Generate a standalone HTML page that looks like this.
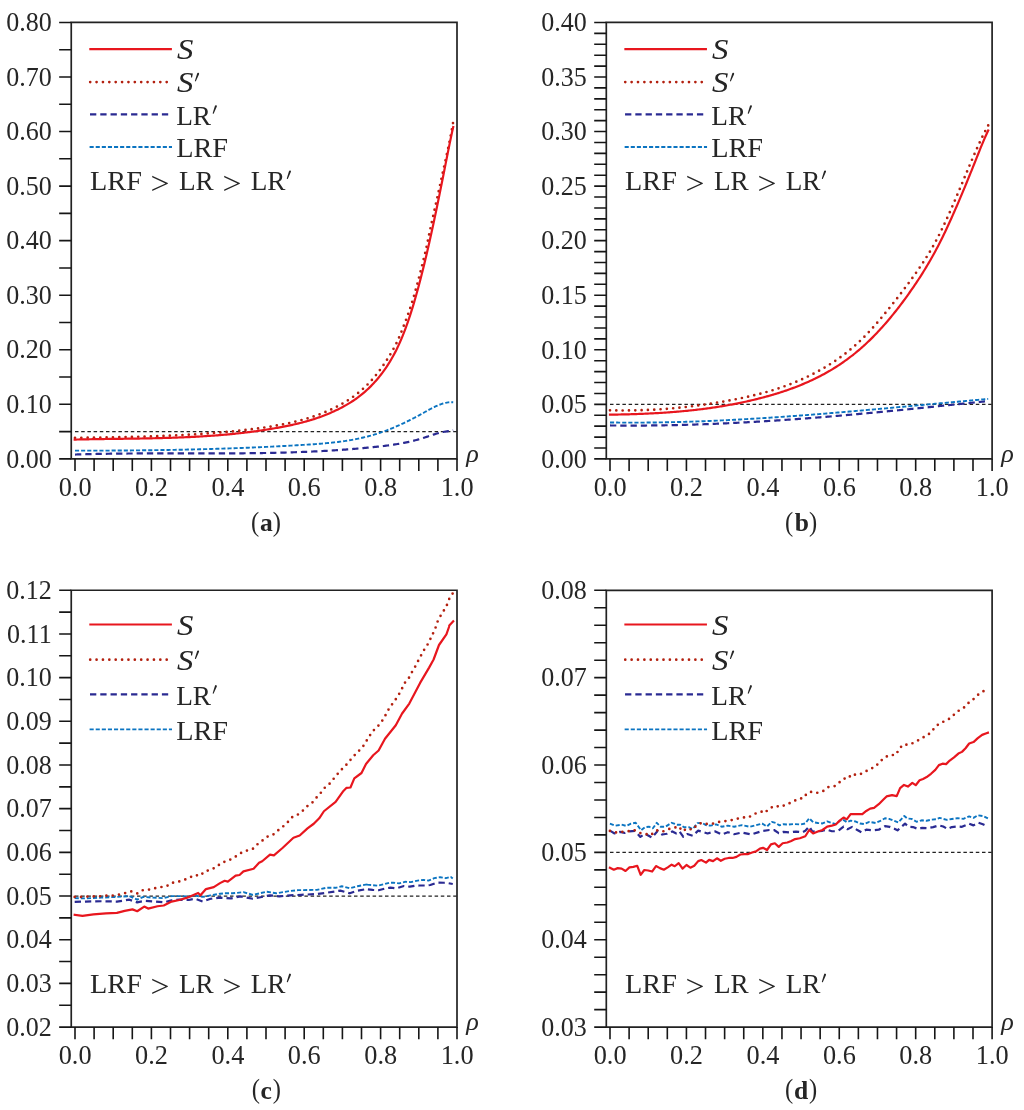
<!DOCTYPE html>
<html><head><meta charset="utf-8"><title>figure</title>
<style>html,body{margin:0;padding:0;background:#fff;width:1024px;height:1110px;overflow:hidden}svg{display:block;font-family:"Liberation Serif",serif}#w{will-change:transform;width:1024px;height:1110px}</style>
</head><body><div id="w">
<svg width="1024" height="1110" viewBox="0 0 1024 1110" font-family="Liberation Serif">
<rect width="1024" height="1110" fill="#fff"/>
<defs><clipPath id="clipa"><rect x="71.25" y="19.45" width="385.75" height="439.40"/></clipPath><clipPath id="clipb"><rect x="606.30" y="19.45" width="385.80" height="439.45"/></clipPath><clipPath id="clipc"><rect x="71.25" y="587.25" width="385.75" height="439.85"/></clipPath><clipPath id="clipd"><rect x="606.30" y="587.30" width="385.80" height="439.80"/></clipPath></defs>
<g clip-path="url(#clipa)">
<path d="M75.00,431.58 H459.00" stroke="#222222" stroke-width="1.3" fill="none" stroke-dasharray="3.5 2.7"/>
<path d="M75.00,454.55 L76.26,454.51 L77.53,454.47 L78.79,454.43 L80.06,454.39 L81.32,454.35 L82.59,454.31 L83.85,454.28 L85.12,454.24 L86.38,454.21 L87.65,454.17 L88.91,454.14 L90.18,454.11 L91.44,454.08 L92.71,454.05 L93.97,454.02 L95.24,453.99 L96.50,453.97 L97.77,453.94 L99.03,453.91 L100.30,453.89 L101.56,453.87 L102.83,453.84 L104.09,453.82 L105.36,453.80 L106.62,453.78 L107.89,453.76 L109.15,453.74 L110.42,453.72 L111.68,453.70 L112.95,453.68 L114.21,453.67 L115.48,453.65 L116.74,453.63 L118.01,453.62 L119.27,453.60 L120.54,453.59 L121.80,453.58 L123.07,453.57 L124.33,453.55 L125.60,453.54 L126.86,453.53 L128.13,453.52 L129.39,453.51 L130.65,453.50 L131.92,453.49 L133.18,453.48 L134.45,453.48 L135.71,453.47 L136.98,453.46 L138.24,453.46 L139.51,453.45 L140.77,453.44 L142.04,453.44 L143.30,453.43 L144.57,453.43 L145.83,453.42 L147.10,453.42 L148.36,453.42 L149.63,453.41 L150.89,453.41 L152.16,453.41 L153.42,453.41 L154.69,453.40 L155.95,453.40 L157.22,453.40 L158.48,453.40 L159.75,453.40 L161.01,453.40 L162.28,453.40 L163.54,453.40 L164.81,453.40 L166.07,453.40 L167.34,453.40 L168.60,453.40 L169.87,453.40 L171.13,453.40 L172.40,453.40 L173.66,453.40 L174.93,453.40 L176.19,453.40 L177.46,453.41 L178.72,453.41 L179.99,453.41 L181.25,453.41 L182.52,453.41 L183.78,453.41 L185.04,453.41 L186.31,453.42 L187.57,453.42 L188.84,453.42 L190.10,453.42 L191.37,453.42 L192.63,453.42 L193.90,453.42 L195.16,453.42 L196.43,453.43 L197.69,453.43 L198.96,453.43 L200.22,453.43 L201.49,453.43 L202.75,453.43 L204.02,453.43 L205.28,453.43 L206.55,453.43 L207.81,453.43 L209.08,453.43 L210.34,453.43 L211.61,453.42 L212.87,453.42 L214.14,453.42 L215.40,453.42 L216.67,453.42 L217.93,453.42 L219.20,453.41 L220.46,453.41 L221.73,453.41 L222.99,453.40 L224.26,453.40 L225.52,453.39 L226.79,453.39 L228.05,453.38 L229.32,453.38 L230.58,453.37 L231.85,453.36 L233.11,453.36 L234.38,453.35 L235.64,453.34 L236.91,453.33 L238.17,453.32 L239.43,453.31 L240.70,453.30 L241.96,453.29 L243.23,453.28 L244.49,453.27 L245.76,453.26 L247.02,453.25 L248.29,453.23 L249.55,453.22 L250.82,453.20 L252.08,453.19 L253.35,453.17 L254.61,453.16 L255.88,453.14 L257.14,453.12 L258.41,453.10 L259.67,453.09 L260.94,453.07 L262.20,453.05 L263.47,453.02 L264.73,453.00 L266.00,452.98 L267.26,452.96 L268.53,452.93 L269.79,452.91 L271.06,452.88 L272.32,452.85 L273.59,452.83 L274.85,452.80 L276.12,452.77 L277.38,452.74 L278.65,452.71 L279.91,452.68 L281.18,452.64 L282.44,452.61 L283.71,452.58 L284.97,452.54 L286.24,452.51 L287.50,452.47 L288.77,452.43 L290.03,452.39 L291.29,452.35 L292.56,452.31 L293.82,452.27 L295.09,452.23 L296.35,452.18 L297.62,452.14 L298.88,452.09 L300.15,452.04 L301.41,451.99 L302.68,451.94 L303.94,451.89 L305.21,451.84 L306.47,451.79 L307.74,451.74 L309.00,451.68 L310.27,451.63 L311.53,451.57 L312.80,451.51 L314.06,451.45 L315.33,451.39 L316.59,451.33 L317.86,451.26 L319.12,451.20 L320.39,451.13 L321.65,451.07 L322.92,451.00 L324.18,450.93 L325.45,450.86 L326.71,450.78 L327.98,450.71 L329.24,450.64 L330.51,450.56 L331.77,450.48 L333.04,450.40 L334.30,450.32 L335.57,450.24 L336.83,450.16 L338.10,450.07 L339.36,449.99 L340.63,449.90 L341.89,449.81 L343.16,449.72 L344.42,449.63 L345.68,449.54 L346.95,449.44 L348.21,449.34 L349.48,449.25 L350.74,449.15 L352.01,449.05 L353.27,448.94 L354.54,448.84 L355.80,448.73 L357.07,448.63 L358.33,448.52 L359.60,448.41 L360.86,448.30 L362.13,448.18 L363.39,448.07 L364.66,447.95 L365.92,447.83 L367.19,447.71 L368.45,447.59 L369.72,447.47 L370.98,447.34 L372.25,447.21 L373.51,447.08 L374.78,446.95 L376.04,446.82 L377.31,446.69 L378.57,446.55 L379.84,446.41 L381.10,446.27 L382.37,446.12 L383.63,445.97 L384.90,445.82 L386.16,445.67 L387.43,445.51 L388.69,445.34 L389.96,445.17 L391.22,444.99 L392.49,444.81 L393.75,444.63 L395.02,444.44 L396.28,444.24 L397.55,444.03 L398.81,443.82 L400.07,443.60 L401.34,443.37 L402.60,443.14 L403.87,442.90 L405.13,442.65 L406.40,442.39 L407.66,442.12 L408.93,441.84 L410.19,441.55 L411.46,441.26 L412.72,440.95 L413.99,440.63 L415.25,440.30 L416.52,439.96 L417.78,439.61 L419.05,439.25 L420.31,438.88 L421.58,438.49 L422.84,438.09 L424.11,437.69 L425.37,437.27 L426.64,436.85 L427.90,436.42 L429.17,435.99 L430.43,435.57 L431.70,435.15 L432.96,434.74 L434.23,434.33 L435.49,433.94 L436.76,433.56 L438.02,433.20 L439.29,432.86 L440.55,432.55 L441.82,432.25 L443.08,431.99 L444.35,431.75 L445.61,431.54 L446.88,431.33 L448.14,431.13 L449.41,430.93 L450.67,430.72 L451.94,430.48 L453.20,430.22" stroke="#2a2a92" stroke-width="2.2" fill="none" stroke-dasharray="6.3 3.97" stroke-linejoin="round"/>
<path d="M75.00,450.65 L76.26,450.65 L77.53,450.65 L78.79,450.65 L80.06,450.65 L81.32,450.65 L82.59,450.65 L83.85,450.65 L85.12,450.65 L86.38,450.65 L87.65,450.65 L88.91,450.64 L90.18,450.64 L91.44,450.64 L92.71,450.64 L93.97,450.63 L95.24,450.63 L96.50,450.63 L97.77,450.62 L99.03,450.62 L100.30,450.62 L101.56,450.61 L102.83,450.61 L104.09,450.60 L105.36,450.60 L106.62,450.59 L107.89,450.59 L109.15,450.58 L110.42,450.58 L111.68,450.57 L112.95,450.56 L114.21,450.56 L115.48,450.55 L116.74,450.54 L118.01,450.53 L119.27,450.52 L120.54,450.52 L121.80,450.51 L123.07,450.50 L124.33,450.49 L125.60,450.48 L126.86,450.47 L128.13,450.46 L129.39,450.45 L130.65,450.44 L131.92,450.42 L133.18,450.41 L134.45,450.40 L135.71,450.39 L136.98,450.38 L138.24,450.36 L139.51,450.35 L140.77,450.34 L142.04,450.32 L143.30,450.31 L144.57,450.29 L145.83,450.28 L147.10,450.26 L148.36,450.25 L149.63,450.23 L150.89,450.21 L152.16,450.20 L153.42,450.18 L154.69,450.16 L155.95,450.14 L157.22,450.13 L158.48,450.11 L159.75,450.09 L161.01,450.07 L162.28,450.05 L163.54,450.03 L164.81,450.01 L166.07,449.99 L167.34,449.97 L168.60,449.94 L169.87,449.92 L171.13,449.90 L172.40,449.88 L173.66,449.85 L174.93,449.83 L176.19,449.81 L177.46,449.78 L178.72,449.76 L179.99,449.73 L181.25,449.70 L182.52,449.68 L183.78,449.65 L185.04,449.62 L186.31,449.60 L187.57,449.57 L188.84,449.54 L190.10,449.51 L191.37,449.48 L192.63,449.45 L193.90,449.42 L195.16,449.39 L196.43,449.36 L197.69,449.33 L198.96,449.30 L200.22,449.27 L201.49,449.23 L202.75,449.20 L204.02,449.17 L205.28,449.13 L206.55,449.10 L207.81,449.06 L209.08,449.03 L210.34,448.99 L211.61,448.95 L212.87,448.92 L214.14,448.88 L215.40,448.84 L216.67,448.80 L217.93,448.76 L219.20,448.72 L220.46,448.68 L221.73,448.64 L222.99,448.60 L224.26,448.56 L225.52,448.52 L226.79,448.48 L228.05,448.43 L229.32,448.39 L230.58,448.35 L231.85,448.30 L233.11,448.26 L234.38,448.21 L235.64,448.17 L236.91,448.12 L238.17,448.07 L239.43,448.02 L240.70,447.98 L241.96,447.93 L243.23,447.88 L244.49,447.83 L245.76,447.78 L247.02,447.73 L248.29,447.68 L249.55,447.62 L250.82,447.57 L252.08,447.52 L253.35,447.47 L254.61,447.41 L255.88,447.36 L257.14,447.30 L258.41,447.25 L259.67,447.19 L260.94,447.13 L262.20,447.07 L263.47,447.02 L264.73,446.96 L266.00,446.90 L267.26,446.84 L268.53,446.78 L269.79,446.72 L271.06,446.66 L272.32,446.59 L273.59,446.53 L274.85,446.47 L276.12,446.40 L277.38,446.34 L278.65,446.27 L279.91,446.21 L281.18,446.14 L282.44,446.07 L283.71,446.01 L284.97,445.94 L286.24,445.87 L287.50,445.80 L288.77,445.73 L290.03,445.66 L291.29,445.59 L292.56,445.52 L293.82,445.44 L295.09,445.37 L296.35,445.30 L297.62,445.22 L298.88,445.15 L300.15,445.07 L301.41,445.00 L302.68,444.92 L303.94,444.84 L305.21,444.76 L306.47,444.68 L307.74,444.60 L309.00,444.52 L310.27,444.44 L311.53,444.36 L312.80,444.27 L314.06,444.18 L315.33,444.09 L316.59,444.00 L317.86,443.91 L319.12,443.81 L320.39,443.71 L321.65,443.61 L322.92,443.51 L324.18,443.40 L325.45,443.29 L326.71,443.17 L327.98,443.05 L329.24,442.93 L330.51,442.80 L331.77,442.67 L333.04,442.54 L334.30,442.40 L335.57,442.25 L336.83,442.10 L338.10,441.95 L339.36,441.79 L340.63,441.62 L341.89,441.45 L343.16,441.27 L344.42,441.09 L345.68,440.90 L346.95,440.70 L348.21,440.50 L349.48,440.29 L350.74,440.08 L352.01,439.85 L353.27,439.62 L354.54,439.39 L355.80,439.14 L357.07,438.89 L358.33,438.63 L359.60,438.36 L360.86,438.08 L362.13,437.80 L363.39,437.50 L364.66,437.20 L365.92,436.89 L367.19,436.57 L368.45,436.24 L369.72,435.90 L370.98,435.55 L372.25,435.19 L373.51,434.82 L374.78,434.44 L376.04,434.05 L377.31,433.65 L378.57,433.24 L379.84,432.82 L381.10,432.39 L382.37,431.95 L383.63,431.50 L384.90,431.04 L386.16,430.57 L387.43,430.09 L388.69,429.60 L389.96,429.10 L391.22,428.59 L392.49,428.08 L393.75,427.55 L395.02,427.02 L396.28,426.47 L397.55,425.92 L398.81,425.36 L400.07,424.79 L401.34,424.22 L402.60,423.63 L403.87,423.04 L405.13,422.43 L406.40,421.82 L407.66,421.21 L408.93,420.58 L410.19,419.95 L411.46,419.31 L412.72,418.66 L413.99,418.00 L415.25,417.34 L416.52,416.67 L417.78,415.99 L419.05,415.30 L420.31,414.61 L421.58,413.92 L422.84,413.21 L424.11,412.50 L425.37,411.79 L426.64,411.08 L427.90,410.38 L429.17,409.68 L430.43,409.00 L431.70,408.33 L432.96,407.68 L434.23,407.05 L435.49,406.44 L436.76,405.86 L438.02,405.32 L439.29,404.80 L440.55,404.32 L441.82,403.89 L443.08,403.49 L444.35,403.15 L445.61,402.85 L446.88,402.60 L448.14,402.42 L449.41,402.29 L450.67,402.22 L451.94,402.22 L453.20,402.29" stroke="#0b74c1" stroke-width="1.9" fill="none" stroke-dasharray="4.1 2.0" stroke-linejoin="round"/>
<path d="M75.00,437.86 L76.26,437.85 L77.53,437.83 L78.79,437.82 L80.06,437.80 L81.32,437.78 L82.59,437.77 L83.85,437.75 L85.11,437.73 L86.38,437.72 L87.64,437.70 L88.91,437.68 L90.17,437.66 L91.43,437.65 L92.70,437.63 L93.96,437.61 L95.23,437.59 L96.49,437.57 L97.76,437.56 L99.02,437.54 L100.28,437.52 L101.55,437.50 L102.81,437.48 L104.08,437.46 L105.34,437.44 L106.61,437.42 L107.87,437.40 L109.13,437.38 L110.40,437.35 L111.66,437.33 L112.93,437.31 L114.19,437.29 L115.45,437.26 L116.72,437.24 L117.98,437.21 L119.25,437.19 L120.51,437.16 L121.78,437.14 L123.04,437.11 L124.30,437.09 L125.57,437.06 L126.83,437.03 L128.10,437.00 L129.36,436.97 L130.63,436.94 L131.89,436.91 L133.15,436.88 L134.42,436.85 L135.68,436.82 L136.95,436.79 L138.21,436.75 L139.47,436.72 L140.74,436.68 L142.00,436.65 L143.27,436.61 L144.53,436.57 L145.80,436.54 L147.06,436.50 L148.32,436.46 L149.59,436.42 L150.85,436.38 L152.12,436.33 L153.38,436.29 L154.65,436.25 L155.91,436.20 L157.17,436.16 L158.44,436.11 L159.70,436.06 L160.97,436.02 L162.23,435.97 L163.49,435.92 L164.76,435.87 L166.02,435.81 L167.29,435.76 L168.55,435.71 L169.82,435.65 L171.08,435.59 L172.34,435.54 L173.61,435.48 L174.87,435.42 L176.14,435.36 L177.40,435.30 L178.67,435.24 L179.93,435.17 L181.19,435.11 L182.46,435.04 L183.72,434.97 L184.99,434.90 L186.25,434.83 L187.52,434.76 L188.78,434.69 L190.04,434.62 L191.31,434.54 L192.57,434.47 L193.84,434.39 L195.10,434.31 L196.36,434.23 L197.63,434.15 L198.89,434.07 L200.16,433.98 L201.42,433.90 L202.69,433.81 L203.95,433.72 L205.21,433.63 L206.48,433.54 L207.74,433.45 L209.01,433.36 L210.27,433.26 L211.54,433.16 L212.80,433.07 L214.06,432.97 L215.33,432.87 L216.59,432.76 L217.86,432.66 L219.12,432.55 L220.38,432.44 L221.65,432.34 L222.91,432.22 L224.18,432.11 L225.44,432.00 L226.71,431.88 L227.97,431.76 L229.23,431.65 L230.50,431.53 L231.76,431.40 L233.03,431.28 L234.29,431.15 L235.56,431.02 L236.82,430.90 L238.08,430.76 L239.35,430.63 L240.61,430.50 L241.88,430.36 L243.14,430.22 L244.40,430.08 L245.67,429.94 L246.93,429.79 L248.20,429.65 L249.46,429.50 L250.73,429.34 L251.99,429.19 L253.25,429.03 L254.52,428.87 L255.78,428.71 L257.05,428.54 L258.31,428.37 L259.58,428.20 L260.84,428.02 L262.10,427.84 L263.37,427.66 L264.63,427.47 L265.90,427.28 L267.16,427.09 L268.42,426.89 L269.69,426.69 L270.95,426.48 L272.22,426.27 L273.48,426.06 L274.75,425.84 L276.01,425.61 L277.27,425.39 L278.54,425.15 L279.80,424.91 L281.07,424.67 L282.33,424.43 L283.60,424.17 L284.86,423.91 L286.12,423.65 L287.39,423.38 L288.65,423.11 L289.92,422.83 L291.18,422.55 L292.44,422.25 L293.71,421.96 L294.97,421.66 L296.24,421.35 L297.50,421.03 L298.77,420.71 L300.03,420.38 L301.29,420.05 L302.56,419.71 L303.82,419.36 L305.09,419.00 L306.35,418.64 L307.62,418.27 L308.88,417.89 L310.14,417.50 L311.41,417.10 L312.67,416.69 L313.94,416.27 L315.20,415.84 L316.46,415.40 L317.73,414.95 L318.99,414.49 L320.26,414.02 L321.52,413.53 L322.79,413.04 L324.05,412.53 L325.31,412.01 L326.58,411.48 L327.84,410.93 L329.11,410.37 L330.37,409.80 L331.64,409.21 L332.90,408.61 L334.16,407.99 L335.43,407.36 L336.69,406.72 L337.96,406.05 L339.22,405.38 L340.48,404.68 L341.75,403.97 L343.01,403.25 L344.28,402.50 L345.54,401.74 L346.81,400.96 L348.07,400.16 L349.33,399.34 L350.60,398.50 L351.86,397.64 L353.13,396.75 L354.39,395.83 L355.66,394.89 L356.92,393.92 L358.18,392.92 L359.45,391.89 L360.71,390.83 L361.98,389.74 L363.24,388.61 L364.51,387.45 L365.77,386.25 L367.03,385.01 L368.30,383.74 L369.56,382.42 L370.83,381.06 L372.09,379.66 L373.35,378.22 L374.62,376.73 L375.88,375.20 L377.15,373.62 L378.41,372.00 L379.68,370.33 L380.94,368.61 L382.20,366.85 L383.47,365.03 L384.73,363.17 L386.00,361.26 L387.26,359.29 L388.53,357.28 L389.79,355.21 L391.05,353.09 L392.32,350.91 L393.58,348.67 L394.85,346.34 L396.11,343.89 L397.37,341.29 L398.64,338.50 L399.90,335.53 L401.17,332.42 L402.43,329.21 L403.70,325.96 L404.96,322.65 L406.22,319.28 L407.49,315.82 L408.75,312.24 L410.02,308.52 L411.28,304.65 L412.55,300.62 L413.81,296.43 L415.07,292.08 L416.34,287.56 L417.60,282.87 L418.87,278.04 L420.13,273.10 L421.39,268.10 L422.66,263.07 L423.92,258.05 L425.19,252.91 L426.45,247.36 L427.72,241.29 L428.98,235.11 L430.24,229.14 L431.51,223.36 L432.77,217.68 L434.04,212.03 L435.30,206.39 L436.57,200.73 L437.83,195.06 L439.09,189.35 L440.36,183.60 L441.62,177.84 L442.89,172.09 L444.15,166.36 L445.41,160.66 L446.68,154.92 L447.94,149.07 L449.21,143.04 L450.47,136.75 L451.74,130.13 L453.00,123.11" stroke="#b3200f" stroke-width="2.7" fill="none" stroke-dasharray="0 6.3242" stroke-linecap="round"/>
<path d="M74.70,439.58 L75.97,439.55 L77.23,439.52 L78.50,439.49 L79.76,439.46 L81.03,439.44 L82.30,439.41 L83.56,439.38 L84.83,439.36 L86.09,439.33 L87.36,439.31 L88.62,439.28 L89.89,439.26 L91.16,439.24 L92.42,439.22 L93.69,439.20 L94.95,439.17 L96.22,439.15 L97.49,439.13 L98.75,439.11 L100.02,439.09 L101.28,439.08 L102.55,439.06 L103.82,439.04 L105.08,439.02 L106.35,439.00 L107.61,438.98 L108.88,438.97 L110.14,438.95 L111.41,438.93 L112.68,438.91 L113.94,438.90 L115.21,438.88 L116.47,438.86 L117.74,438.85 L119.01,438.83 L120.27,438.81 L121.54,438.80 L122.80,438.78 L124.07,438.76 L125.34,438.74 L126.60,438.73 L127.87,438.71 L129.13,438.69 L130.40,438.67 L131.66,438.65 L132.93,438.63 L134.20,438.61 L135.46,438.59 L136.73,438.57 L137.99,438.55 L139.26,438.53 L140.53,438.51 L141.79,438.49 L143.06,438.47 L144.32,438.44 L145.59,438.42 L146.86,438.40 L148.12,438.37 L149.39,438.35 L150.65,438.32 L151.92,438.29 L153.18,438.26 L154.45,438.24 L155.72,438.21 L156.98,438.18 L158.25,438.15 L159.51,438.12 L160.78,438.08 L162.05,438.05 L163.31,438.02 L164.58,437.98 L165.84,437.94 L167.11,437.91 L168.38,437.87 L169.64,437.83 L170.91,437.79 L172.17,437.75 L173.44,437.70 L174.71,437.66 L175.97,437.61 L177.24,437.57 L178.50,437.52 L179.77,437.47 L181.03,437.42 L182.30,437.37 L183.57,437.32 L184.83,437.26 L186.10,437.21 L187.36,437.15 L188.63,437.09 L189.90,437.03 L191.16,436.97 L192.43,436.91 L193.69,436.84 L194.96,436.78 L196.23,436.71 L197.49,436.64 L198.76,436.57 L200.02,436.49 L201.29,436.42 L202.55,436.34 L203.82,436.27 L205.09,436.19 L206.35,436.10 L207.62,436.02 L208.88,435.94 L210.15,435.85 L211.42,435.76 L212.68,435.67 L213.95,435.57 L215.21,435.48 L216.48,435.38 L217.75,435.28 L219.01,435.18 L220.28,435.08 L221.54,434.97 L222.81,434.86 L224.07,434.75 L225.34,434.64 L226.61,434.53 L227.87,434.41 L229.14,434.29 L230.40,434.17 L231.67,434.05 L232.94,433.92 L234.20,433.79 L235.47,433.66 L236.73,433.53 L238.00,433.39 L239.27,433.25 L240.53,433.11 L241.80,432.97 L243.06,432.82 L244.33,432.68 L245.59,432.52 L246.86,432.37 L248.13,432.21 L249.39,432.05 L250.66,431.89 L251.92,431.73 L253.19,431.56 L254.46,431.39 L255.72,431.22 L256.99,431.04 L258.25,430.86 L259.52,430.68 L260.79,430.50 L262.05,430.31 L263.32,430.12 L264.58,429.92 L265.85,429.73 L267.11,429.53 L268.38,429.32 L269.65,429.12 L270.91,428.91 L272.18,428.69 L273.44,428.48 L274.71,428.26 L275.98,428.04 L277.24,427.81 L278.51,427.58 L279.77,427.35 L281.04,427.12 L282.31,426.88 L283.57,426.63 L284.84,426.39 L286.10,426.14 L287.37,425.88 L288.63,425.62 L289.90,425.36 L291.17,425.08 L292.43,424.81 L293.70,424.53 L294.96,424.24 L296.23,423.95 L297.50,423.65 L298.76,423.34 L300.03,423.03 L301.29,422.71 L302.56,422.38 L303.83,422.05 L305.09,421.71 L306.36,421.36 L307.62,421.00 L308.89,420.63 L310.15,420.26 L311.42,419.87 L312.69,419.48 L313.95,419.08 L315.22,418.67 L316.48,418.25 L317.75,417.82 L319.02,417.38 L320.28,416.92 L321.55,416.46 L322.81,415.99 L324.08,415.51 L325.35,415.01 L326.61,414.50 L327.88,413.99 L329.14,413.46 L330.41,412.91 L331.67,412.36 L332.94,411.79 L334.21,411.21 L335.47,410.62 L336.74,410.01 L338.00,409.39 L339.27,408.76 L340.54,408.11 L341.80,407.44 L343.07,406.77 L344.33,406.08 L345.60,405.37 L346.87,404.64 L348.13,403.90 L349.40,403.14 L350.66,402.35 L351.93,401.55 L353.19,400.72 L354.46,399.87 L355.73,398.99 L356.99,398.09 L358.26,397.16 L359.52,396.20 L360.79,395.21 L362.06,394.19 L363.32,393.14 L364.59,392.06 L365.85,390.94 L367.12,389.79 L368.39,388.61 L369.65,387.38 L370.92,386.12 L372.18,384.82 L373.45,383.48 L374.72,382.10 L375.98,380.67 L377.25,379.20 L378.51,377.69 L379.78,376.13 L381.04,374.52 L382.31,372.87 L383.58,371.16 L384.84,369.39 L386.11,367.56 L387.37,365.67 L388.64,363.70 L389.91,361.66 L391.17,359.53 L392.44,357.32 L393.70,355.03 L394.97,352.64 L396.24,350.15 L397.50,347.56 L398.77,344.86 L400.03,342.05 L401.30,339.12 L402.56,336.08 L403.83,332.91 L405.10,329.61 L406.36,326.18 L407.63,322.61 L408.89,318.92 L410.16,315.09 L411.43,311.14 L412.69,307.06 L413.96,302.85 L415.22,298.52 L416.49,294.07 L417.76,289.50 L419.02,284.81 L420.29,280.00 L421.55,275.07 L422.82,270.03 L424.08,264.87 L425.35,259.61 L426.62,254.23 L427.88,248.76 L429.15,243.19 L430.41,237.52 L431.68,231.76 L432.95,225.93 L434.21,220.01 L435.48,214.01 L436.74,207.94 L438.01,201.81 L439.28,195.61 L440.54,189.36 L441.81,183.05 L443.07,176.69 L444.34,170.29 L445.60,163.86 L446.87,157.46 L448.14,151.11 L449.40,144.86 L450.67,138.75 L451.93,132.83 L453.20,127.14" stroke="#e8161e" stroke-width="2.2" fill="none" stroke-linejoin="round" stroke-linecap="square"/>
</g>
<path d="M71.25,22.45 V458.85 H457.00 V22.45 Z" fill="none" stroke="#222" stroke-width="1.7"/>
<path d="M59.15,458.85 H71.25 M59.15,431.58 H71.25 M59.15,404.30 H71.25 M59.15,377.02 H71.25 M59.15,349.75 H71.25 M59.15,322.48 H71.25 M59.15,295.20 H71.25 M59.15,267.93 H71.25 M59.15,240.65 H71.25 M59.15,213.38 H71.25 M59.15,186.10 H71.25 M59.15,158.82 H71.25 M59.15,131.55 H71.25 M59.15,104.27 H71.25 M59.15,77.00 H71.25 M59.15,49.72 H71.25 M59.15,22.45 H71.25 M75.00,458.85 V470.95 M94.10,458.85 V470.95 M113.20,458.85 V470.95 M132.30,458.85 V470.95 M151.40,458.85 V470.95 M170.50,458.85 V470.95 M189.60,458.85 V470.95 M208.70,458.85 V470.95 M227.80,458.85 V470.95 M246.90,458.85 V470.95 M266.00,458.85 V470.95 M285.10,458.85 V470.95 M304.20,458.85 V470.95 M323.30,458.85 V470.95 M342.40,458.85 V470.95 M361.50,458.85 V470.95 M380.60,458.85 V470.95 M399.70,458.85 V470.95 M418.80,458.85 V470.95 M437.90,458.85 V470.95 M457.00,458.85 V470.95" stroke="#161616" stroke-width="1.6" fill="none"/>
<text transform="translate(51.67,467.56) scale(0.9692,1)" font-size="26.87" font-style="normal" font-weight="normal" text-anchor="end" fill="#262626">0.00</text>
<text transform="translate(51.67,413.01) scale(0.9692,1)" font-size="26.87" font-style="normal" font-weight="normal" text-anchor="end" fill="#262626">0.10</text>
<text transform="translate(51.67,358.46) scale(0.9692,1)" font-size="26.87" font-style="normal" font-weight="normal" text-anchor="end" fill="#262626">0.20</text>
<text transform="translate(51.67,303.91) scale(0.9692,1)" font-size="26.87" font-style="normal" font-weight="normal" text-anchor="end" fill="#262626">0.30</text>
<text transform="translate(51.67,249.36) scale(0.9692,1)" font-size="26.87" font-style="normal" font-weight="normal" text-anchor="end" fill="#262626">0.40</text>
<text transform="translate(51.67,194.81) scale(0.9692,1)" font-size="26.87" font-style="normal" font-weight="normal" text-anchor="end" fill="#262626">0.50</text>
<text transform="translate(51.67,140.26) scale(0.9692,1)" font-size="26.87" font-style="normal" font-weight="normal" text-anchor="end" fill="#262626">0.60</text>
<text transform="translate(51.67,85.71) scale(0.9692,1)" font-size="26.87" font-style="normal" font-weight="normal" text-anchor="end" fill="#262626">0.70</text>
<text transform="translate(51.67,31.16) scale(0.9692,1)" font-size="26.87" font-style="normal" font-weight="normal" text-anchor="end" fill="#262626">0.80</text>
<text transform="translate(75.10,496.07) scale(0.9853,1)" font-size="26.72" font-style="normal" font-weight="normal" text-anchor="middle" fill="#262626">0.0</text>
<text transform="translate(151.50,496.07) scale(0.9853,1)" font-size="26.72" font-style="normal" font-weight="normal" text-anchor="middle" fill="#262626">0.2</text>
<text transform="translate(227.90,496.07) scale(0.9853,1)" font-size="26.72" font-style="normal" font-weight="normal" text-anchor="middle" fill="#262626">0.4</text>
<text transform="translate(304.30,496.07) scale(0.9853,1)" font-size="26.72" font-style="normal" font-weight="normal" text-anchor="middle" fill="#262626">0.6</text>
<text transform="translate(380.70,496.07) scale(0.9853,1)" font-size="26.72" font-style="normal" font-weight="normal" text-anchor="middle" fill="#262626">0.8</text>
<text transform="translate(457.10,496.07) scale(0.9853,1)" font-size="26.72" font-style="normal" font-weight="normal" text-anchor="middle" fill="#262626">1.0</text>
<text transform="translate(466.22,461.91) scale(1.0383,1)" font-size="25.21" font-style="italic" font-weight="normal" text-anchor="start" fill="#262626">ρ</text>
<g clip-path="url(#clipb)">
<path d="M610.00,404.34 H994.10" stroke="#222222" stroke-width="1.3" fill="none" stroke-dasharray="3.5 2.7"/>
<path d="M610.00,425.46 L611.26,425.48 L612.53,425.49 L613.79,425.50 L615.06,425.51 L616.32,425.52 L617.59,425.53 L618.85,425.54 L620.12,425.55 L621.38,425.56 L622.65,425.56 L623.91,425.57 L625.18,425.57 L626.44,425.58 L627.71,425.58 L628.97,425.58 L630.24,425.58 L631.50,425.58 L632.77,425.58 L634.03,425.58 L635.30,425.58 L636.56,425.57 L637.83,425.57 L639.09,425.56 L640.36,425.56 L641.62,425.55 L642.89,425.54 L644.15,425.54 L645.42,425.53 L646.68,425.52 L647.95,425.51 L649.21,425.49 L650.48,425.48 L651.74,425.47 L653.01,425.45 L654.27,425.44 L655.54,425.42 L656.80,425.40 L658.07,425.39 L659.33,425.37 L660.60,425.35 L661.86,425.33 L663.13,425.31 L664.39,425.29 L665.65,425.26 L666.92,425.24 L668.18,425.22 L669.45,425.19 L670.71,425.17 L671.98,425.14 L673.24,425.11 L674.51,425.09 L675.77,425.06 L677.04,425.03 L678.30,425.00 L679.57,424.97 L680.83,424.93 L682.10,424.90 L683.36,424.87 L684.63,424.83 L685.89,424.80 L687.16,424.76 L688.42,424.73 L689.69,424.69 L690.95,424.65 L692.22,424.61 L693.48,424.57 L694.75,424.53 L696.01,424.49 L697.28,424.45 L698.54,424.41 L699.81,424.37 L701.07,424.32 L702.34,424.28 L703.60,424.23 L704.87,424.19 L706.13,424.14 L707.40,424.09 L708.66,424.04 L709.93,423.99 L711.19,423.95 L712.46,423.89 L713.72,423.84 L714.99,423.79 L716.25,423.74 L717.52,423.69 L718.78,423.63 L720.04,423.58 L721.31,423.52 L722.57,423.47 L723.84,423.41 L725.10,423.35 L726.37,423.30 L727.63,423.24 L728.90,423.18 L730.16,423.12 L731.43,423.06 L732.69,423.00 L733.96,422.93 L735.22,422.87 L736.49,422.81 L737.75,422.75 L739.02,422.68 L740.28,422.62 L741.55,422.55 L742.81,422.48 L744.08,422.42 L745.34,422.35 L746.61,422.28 L747.87,422.21 L749.14,422.14 L750.40,422.07 L751.67,422.00 L752.93,421.93 L754.20,421.86 L755.46,421.78 L756.73,421.71 L757.99,421.64 L759.26,421.56 L760.52,421.49 L761.79,421.41 L763.05,421.33 L764.32,421.26 L765.58,421.18 L766.85,421.10 L768.11,421.02 L769.38,420.94 L770.64,420.86 L771.91,420.78 L773.17,420.70 L774.43,420.62 L775.70,420.54 L776.96,420.45 L778.23,420.37 L779.49,420.29 L780.76,420.20 L782.02,420.12 L783.29,420.03 L784.55,419.94 L785.82,419.86 L787.08,419.77 L788.35,419.68 L789.61,419.59 L790.88,419.50 L792.14,419.42 L793.41,419.32 L794.67,419.23 L795.94,419.14 L797.20,419.05 L798.47,418.96 L799.73,418.87 L801.00,418.77 L802.26,418.68 L803.53,418.58 L804.79,418.49 L806.06,418.39 L807.32,418.30 L808.59,418.20 L809.85,418.10 L811.12,418.01 L812.38,417.91 L813.65,417.81 L814.91,417.71 L816.18,417.61 L817.44,417.51 L818.71,417.41 L819.97,417.31 L821.24,417.21 L822.50,417.11 L823.77,417.00 L825.03,416.90 L826.29,416.80 L827.56,416.69 L828.82,416.59 L830.09,416.48 L831.35,416.38 L832.62,416.27 L833.88,416.17 L835.15,416.06 L836.41,415.95 L837.68,415.85 L838.94,415.74 L840.21,415.63 L841.47,415.52 L842.74,415.41 L844.00,415.30 L845.27,415.19 L846.53,415.08 L847.80,414.97 L849.06,414.86 L850.33,414.75 L851.59,414.63 L852.86,414.52 L854.12,414.41 L855.39,414.29 L856.65,414.18 L857.92,414.06 L859.18,413.95 L860.45,413.83 L861.71,413.72 L862.98,413.60 L864.24,413.49 L865.51,413.37 L866.77,413.25 L868.04,413.14 L869.30,413.02 L870.57,412.90 L871.83,412.78 L873.10,412.66 L874.36,412.54 L875.63,412.42 L876.89,412.30 L878.16,412.18 L879.42,412.06 L880.68,411.94 L881.95,411.82 L883.21,411.70 L884.48,411.58 L885.74,411.46 L887.01,411.34 L888.27,411.21 L889.54,411.09 L890.80,410.97 L892.07,410.84 L893.33,410.72 L894.60,410.60 L895.86,410.47 L897.13,410.35 L898.39,410.22 L899.66,410.10 L900.92,409.98 L902.19,409.85 L903.45,409.72 L904.72,409.60 L905.98,409.47 L907.25,409.35 L908.51,409.22 L909.78,409.09 L911.04,408.97 L912.31,408.84 L913.57,408.71 L914.84,408.59 L916.10,408.46 L917.37,408.33 L918.63,408.20 L919.90,408.08 L921.16,407.95 L922.43,407.82 L923.69,407.69 L924.96,407.56 L926.22,407.44 L927.49,407.31 L928.75,407.18 L930.02,407.05 L931.28,406.92 L932.55,406.79 L933.81,406.66 L935.07,406.53 L936.34,406.40 L937.60,406.27 L938.87,406.14 L940.13,406.02 L941.40,405.89 L942.66,405.76 L943.93,405.63 L945.19,405.50 L946.46,405.37 L947.72,405.24 L948.99,405.11 L950.25,404.98 L951.52,404.85 L952.78,404.72 L954.05,404.59 L955.31,404.46 L956.58,404.33 L957.84,404.19 L959.11,404.06 L960.37,403.93 L961.64,403.80 L962.90,403.67 L964.17,403.54 L965.43,403.41 L966.70,403.28 L967.96,403.15 L969.23,403.02 L970.49,402.89 L971.76,402.76 L973.02,402.63 L974.29,402.50 L975.55,402.37 L976.82,402.24 L978.08,402.11 L979.35,401.98 L980.61,401.85 L981.88,401.72 L983.14,401.59 L984.41,401.47 L985.67,401.34 L986.94,401.21 L988.20,401.08" stroke="#2a2a92" stroke-width="2.2" fill="none" stroke-dasharray="6.3 3.97" stroke-linejoin="round"/>
<path d="M610.00,422.48 L611.26,422.49 L612.53,422.51 L613.79,422.53 L615.06,422.54 L616.32,422.55 L617.59,422.57 L618.85,422.58 L620.12,422.59 L621.38,422.60 L622.65,422.60 L623.91,422.61 L625.18,422.62 L626.44,422.62 L627.71,422.63 L628.97,422.63 L630.24,422.63 L631.50,422.63 L632.77,422.63 L634.03,422.63 L635.30,422.63 L636.56,422.63 L637.83,422.63 L639.09,422.62 L640.36,422.61 L641.62,422.61 L642.89,422.60 L644.15,422.59 L645.42,422.58 L646.68,422.57 L647.95,422.56 L649.21,422.55 L650.48,422.53 L651.74,422.52 L653.01,422.50 L654.27,422.49 L655.54,422.47 L656.80,422.45 L658.07,422.43 L659.33,422.41 L660.60,422.39 L661.86,422.37 L663.13,422.35 L664.39,422.33 L665.65,422.30 L666.92,422.28 L668.18,422.25 L669.45,422.22 L670.71,422.20 L671.98,422.17 L673.24,422.14 L674.51,422.11 L675.77,422.08 L677.04,422.04 L678.30,422.01 L679.57,421.98 L680.83,421.94 L682.10,421.91 L683.36,421.87 L684.63,421.83 L685.89,421.80 L687.16,421.76 L688.42,421.72 L689.69,421.68 L690.95,421.64 L692.22,421.59 L693.48,421.55 L694.75,421.51 L696.01,421.46 L697.28,421.42 L698.54,421.37 L699.81,421.33 L701.07,421.28 L702.34,421.23 L703.60,421.18 L704.87,421.13 L706.13,421.08 L707.40,421.03 L708.66,420.98 L709.93,420.93 L711.19,420.87 L712.46,420.82 L713.72,420.76 L714.99,420.71 L716.25,420.65 L717.52,420.59 L718.78,420.54 L720.04,420.48 L721.31,420.42 L722.57,420.36 L723.84,420.30 L725.10,420.24 L726.37,420.18 L727.63,420.11 L728.90,420.05 L730.16,419.99 L731.43,419.92 L732.69,419.86 L733.96,419.79 L735.22,419.72 L736.49,419.66 L737.75,419.59 L739.02,419.52 L740.28,419.45 L741.55,419.38 L742.81,419.31 L744.08,419.24 L745.34,419.17 L746.61,419.09 L747.87,419.02 L749.14,418.95 L750.40,418.87 L751.67,418.80 L752.93,418.72 L754.20,418.65 L755.46,418.57 L756.73,418.49 L757.99,418.42 L759.26,418.34 L760.52,418.26 L761.79,418.18 L763.05,418.10 L764.32,418.02 L765.58,417.94 L766.85,417.86 L768.11,417.77 L769.38,417.69 L770.64,417.61 L771.91,417.52 L773.17,417.44 L774.43,417.36 L775.70,417.27 L776.96,417.18 L778.23,417.10 L779.49,417.01 L780.76,416.92 L782.02,416.84 L783.29,416.75 L784.55,416.66 L785.82,416.57 L787.08,416.48 L788.35,416.39 L789.61,416.30 L790.88,416.21 L792.14,416.11 L793.41,416.02 L794.67,415.93 L795.94,415.84 L797.20,415.74 L798.47,415.65 L799.73,415.55 L801.00,415.46 L802.26,415.36 L803.53,415.27 L804.79,415.17 L806.06,415.08 L807.32,414.98 L808.59,414.88 L809.85,414.78 L811.12,414.68 L812.38,414.59 L813.65,414.49 L814.91,414.39 L816.18,414.29 L817.44,414.19 L818.71,414.09 L819.97,413.99 L821.24,413.88 L822.50,413.78 L823.77,413.68 L825.03,413.58 L826.29,413.48 L827.56,413.37 L828.82,413.27 L830.09,413.16 L831.35,413.06 L832.62,412.96 L833.88,412.85 L835.15,412.75 L836.41,412.64 L837.68,412.54 L838.94,412.43 L840.21,412.32 L841.47,412.22 L842.74,412.11 L844.00,412.00 L845.27,411.89 L846.53,411.79 L847.80,411.68 L849.06,411.57 L850.33,411.46 L851.59,411.35 L852.86,411.24 L854.12,411.13 L855.39,411.02 L856.65,410.91 L857.92,410.80 L859.18,410.69 L860.45,410.58 L861.71,410.47 L862.98,410.36 L864.24,410.25 L865.51,410.14 L866.77,410.03 L868.04,409.91 L869.30,409.80 L870.57,409.69 L871.83,409.58 L873.10,409.46 L874.36,409.35 L875.63,409.24 L876.89,409.12 L878.16,409.01 L879.42,408.90 L880.68,408.78 L881.95,408.67 L883.21,408.55 L884.48,408.44 L885.74,408.33 L887.01,408.21 L888.27,408.10 L889.54,407.98 L890.80,407.87 L892.07,407.75 L893.33,407.63 L894.60,407.52 L895.86,407.40 L897.13,407.29 L898.39,407.17 L899.66,407.06 L900.92,406.94 L902.19,406.82 L903.45,406.71 L904.72,406.59 L905.98,406.47 L907.25,406.36 L908.51,406.24 L909.78,406.12 L911.04,406.01 L912.31,405.89 L913.57,405.77 L914.84,405.66 L916.10,405.54 L917.37,405.42 L918.63,405.31 L919.90,405.19 L921.16,405.07 L922.43,404.95 L923.69,404.84 L924.96,404.72 L926.22,404.60 L927.49,404.49 L928.75,404.37 L930.02,404.25 L931.28,404.13 L932.55,404.02 L933.81,403.90 L935.07,403.78 L936.34,403.66 L937.60,403.55 L938.87,403.43 L940.13,403.31 L941.40,403.20 L942.66,403.08 L943.93,402.96 L945.19,402.84 L946.46,402.73 L947.72,402.61 L948.99,402.49 L950.25,402.38 L951.52,402.26 L952.78,402.14 L954.05,402.03 L955.31,401.91 L956.58,401.79 L957.84,401.68 L959.11,401.56 L960.37,401.44 L961.64,401.33 L962.90,401.21 L964.17,401.10 L965.43,400.98 L966.70,400.87 L967.96,400.75 L969.23,400.63 L970.49,400.52 L971.76,400.40 L973.02,400.29 L974.29,400.17 L975.55,400.06 L976.82,399.94 L978.08,399.83 L979.35,399.72 L980.61,399.60 L981.88,399.49 L983.14,399.37 L984.41,399.26 L985.67,399.15 L986.94,399.03 L988.20,398.92" stroke="#0b74c1" stroke-width="1.9" fill="none" stroke-dasharray="4.1 2.0" stroke-linejoin="round"/>
<path d="M610.00,410.30 L611.26,410.33 L612.53,410.36 L613.79,410.38 L615.06,410.41 L616.32,410.43 L617.59,410.45 L618.85,410.46 L620.12,410.47 L621.38,410.48 L622.65,410.48 L623.91,410.49 L625.18,410.49 L626.44,410.48 L627.71,410.47 L628.97,410.46 L630.24,410.45 L631.50,410.43 L632.77,410.41 L634.03,410.39 L635.30,410.37 L636.56,410.34 L637.83,410.31 L639.09,410.27 L640.36,410.24 L641.62,410.20 L642.89,410.15 L644.15,410.11 L645.42,410.06 L646.68,410.01 L647.95,409.95 L649.21,409.89 L650.48,409.83 L651.74,409.77 L653.01,409.70 L654.27,409.63 L655.54,409.56 L656.80,409.48 L658.07,409.41 L659.33,409.32 L660.60,409.24 L661.86,409.15 L663.13,409.06 L664.39,408.97 L665.65,408.87 L666.92,408.78 L668.18,408.67 L669.45,408.57 L670.71,408.46 L671.98,408.35 L673.24,408.24 L674.51,408.13 L675.77,408.01 L677.04,407.89 L678.30,407.76 L679.57,407.63 L680.83,407.50 L682.10,407.37 L683.36,407.24 L684.63,407.10 L685.89,406.96 L687.16,406.81 L688.42,406.67 L689.69,406.52 L690.95,406.37 L692.22,406.21 L693.48,406.05 L694.75,405.89 L696.01,405.73 L697.28,405.56 L698.54,405.40 L699.81,405.22 L701.07,405.05 L702.34,404.87 L703.60,404.69 L704.87,404.51 L706.13,404.33 L707.40,404.14 L708.66,403.95 L709.93,403.76 L711.19,403.56 L712.46,403.36 L713.72,403.16 L714.99,402.96 L716.25,402.75 L717.52,402.54 L718.78,402.33 L720.04,402.12 L721.31,401.90 L722.57,401.68 L723.84,401.46 L725.10,401.24 L726.37,401.01 L727.63,400.78 L728.90,400.55 L730.16,400.31 L731.43,400.07 L732.69,399.83 L733.96,399.59 L735.22,399.34 L736.49,399.09 L737.75,398.84 L739.02,398.59 L740.28,398.33 L741.55,398.06 L742.81,397.80 L744.08,397.53 L745.34,397.26 L746.61,396.98 L747.87,396.70 L749.14,396.41 L750.40,396.12 L751.67,395.83 L752.93,395.53 L754.20,395.22 L755.46,394.92 L756.73,394.60 L757.99,394.28 L759.26,393.96 L760.52,393.63 L761.79,393.30 L763.05,392.96 L764.32,392.62 L765.58,392.26 L766.85,391.91 L768.11,391.55 L769.38,391.18 L770.64,390.80 L771.91,390.42 L773.17,390.04 L774.43,389.64 L775.70,389.24 L776.96,388.84 L778.23,388.42 L779.49,388.00 L780.76,387.58 L782.02,387.14 L783.29,386.70 L784.55,386.25 L785.82,385.80 L787.08,385.33 L788.35,384.86 L789.61,384.38 L790.88,383.89 L792.14,383.40 L793.41,382.89 L794.67,382.38 L795.94,381.86 L797.20,381.33 L798.47,380.79 L799.73,380.25 L801.00,379.69 L802.26,379.13 L803.53,378.55 L804.79,377.97 L806.06,377.38 L807.32,376.77 L808.59,376.16 L809.85,375.54 L811.12,374.91 L812.38,374.27 L813.65,373.62 L814.91,372.96 L816.18,372.29 L817.44,371.61 L818.71,370.92 L819.97,370.21 L821.24,369.50 L822.50,368.78 L823.77,368.04 L825.03,367.30 L826.29,366.54 L827.56,365.77 L828.82,364.99 L830.09,364.20 L831.35,363.39 L832.62,362.57 L833.88,361.74 L835.15,360.90 L836.41,360.04 L837.68,359.17 L838.94,358.28 L840.21,357.37 L841.47,356.46 L842.74,355.52 L844.00,354.57 L845.27,353.60 L846.53,352.62 L847.80,351.61 L849.06,350.59 L850.33,349.56 L851.59,348.50 L852.86,347.42 L854.12,346.33 L855.39,345.21 L856.65,344.08 L857.92,342.92 L859.18,341.75 L860.45,340.55 L861.71,339.33 L862.98,338.09 L864.24,336.82 L865.51,335.54 L866.77,334.23 L868.04,332.90 L869.30,331.55 L870.57,330.18 L871.83,328.79 L873.10,327.39 L874.36,325.96 L875.63,324.52 L876.89,323.07 L878.16,321.60 L879.42,320.11 L880.68,318.61 L881.95,317.10 L883.21,315.58 L884.48,314.04 L885.74,312.50 L887.01,310.95 L888.27,309.38 L889.54,307.81 L890.80,306.24 L892.07,304.65 L893.33,303.06 L894.60,301.45 L895.86,299.84 L897.13,298.22 L898.39,296.59 L899.66,294.95 L900.92,293.30 L902.19,291.65 L903.45,289.98 L904.72,288.30 L905.98,286.61 L907.25,284.91 L908.51,283.20 L909.78,281.48 L911.04,279.75 L912.31,278.01 L913.57,276.25 L914.84,274.48 L916.10,272.70 L917.37,270.90 L918.63,269.08 L919.90,267.23 L921.16,265.37 L922.43,263.47 L923.69,261.55 L924.96,259.59 L926.22,257.60 L927.49,255.58 L928.75,253.51 L930.02,251.41 L931.28,249.26 L932.55,247.06 L933.81,244.82 L935.07,242.53 L936.34,240.18 L937.60,237.78 L938.87,235.32 L940.13,232.81 L941.40,230.25 L942.66,227.64 L943.93,224.98 L945.19,222.28 L946.46,219.54 L947.72,216.76 L948.99,213.95 L950.25,211.10 L951.52,208.22 L952.78,205.31 L954.05,202.38 L955.31,199.43 L956.58,196.46 L957.84,193.46 L959.11,190.46 L960.37,187.44 L961.64,184.41 L962.90,181.38 L964.17,178.34 L965.43,175.30 L966.70,172.27 L967.96,169.25 L969.23,166.24 L970.49,163.25 L971.76,160.28 L973.02,157.33 L974.29,154.42 L975.55,151.53 L976.82,148.69 L978.08,145.89 L979.35,143.13 L980.61,140.42 L981.88,137.77 L983.14,135.17 L984.41,132.64 L985.67,130.17 L986.94,127.78 L988.20,125.46" stroke="#b3200f" stroke-width="2.7" fill="none" stroke-dasharray="0 6.3223" stroke-linecap="round"/>
<path d="M610.00,414.67 L611.26,414.65 L612.53,414.63 L613.79,414.61 L615.06,414.59 L616.32,414.57 L617.59,414.55 L618.85,414.52 L620.12,414.50 L621.38,414.47 L622.65,414.44 L623.91,414.41 L625.18,414.38 L626.44,414.35 L627.71,414.32 L628.97,414.28 L630.24,414.25 L631.50,414.21 L632.77,414.17 L634.03,414.13 L635.30,414.09 L636.56,414.04 L637.83,414.00 L639.09,413.95 L640.36,413.90 L641.62,413.85 L642.89,413.80 L644.15,413.75 L645.42,413.70 L646.68,413.64 L647.95,413.58 L649.21,413.52 L650.48,413.46 L651.74,413.40 L653.01,413.33 L654.27,413.26 L655.54,413.20 L656.80,413.12 L658.07,413.05 L659.33,412.98 L660.60,412.90 L661.86,412.82 L663.13,412.74 L664.39,412.66 L665.65,412.57 L666.92,412.48 L668.18,412.40 L669.45,412.30 L670.71,412.21 L671.98,412.11 L673.24,412.01 L674.51,411.91 L675.77,411.81 L677.04,411.71 L678.30,411.60 L679.57,411.49 L680.83,411.38 L682.10,411.26 L683.36,411.14 L684.63,411.02 L685.89,410.90 L687.16,410.78 L688.42,410.65 L689.69,410.52 L690.95,410.38 L692.22,410.25 L693.48,410.11 L694.75,409.97 L696.01,409.82 L697.28,409.68 L698.54,409.53 L699.81,409.38 L701.07,409.22 L702.34,409.06 L703.60,408.90 L704.87,408.74 L706.13,408.57 L707.40,408.40 L708.66,408.23 L709.93,408.05 L711.19,407.87 L712.46,407.69 L713.72,407.50 L714.99,407.31 L716.25,407.12 L717.52,406.92 L718.78,406.72 L720.04,406.52 L721.31,406.32 L722.57,406.11 L723.84,405.89 L725.10,405.68 L726.37,405.46 L727.63,405.24 L728.90,405.01 L730.16,404.78 L731.43,404.55 L732.69,404.31 L733.96,404.07 L735.22,403.82 L736.49,403.58 L737.75,403.32 L739.02,403.07 L740.28,402.81 L741.55,402.55 L742.81,402.28 L744.08,402.01 L745.34,401.73 L746.61,401.45 L747.87,401.17 L749.14,400.88 L750.40,400.59 L751.67,400.30 L752.93,400.00 L754.20,399.70 L755.46,399.39 L756.73,399.08 L757.99,398.76 L759.26,398.44 L760.52,398.12 L761.79,397.79 L763.05,397.46 L764.32,397.12 L765.58,396.78 L766.85,396.43 L768.11,396.08 L769.38,395.72 L770.64,395.36 L771.91,395.00 L773.17,394.62 L774.43,394.25 L775.70,393.87 L776.96,393.48 L778.23,393.09 L779.49,392.69 L780.76,392.28 L782.02,391.87 L783.29,391.45 L784.55,391.03 L785.82,390.60 L787.08,390.17 L788.35,389.72 L789.61,389.27 L790.88,388.82 L792.14,388.35 L793.41,387.88 L794.67,387.41 L795.94,386.92 L797.20,386.43 L798.47,385.93 L799.73,385.42 L801.00,384.91 L802.26,384.39 L803.53,383.86 L804.79,383.32 L806.06,382.77 L807.32,382.21 L808.59,381.65 L809.85,381.08 L811.12,380.50 L812.38,379.91 L813.65,379.31 L814.91,378.70 L816.18,378.08 L817.44,377.45 L818.71,376.82 L819.97,376.17 L821.24,375.51 L822.50,374.84 L823.77,374.16 L825.03,373.47 L826.29,372.77 L827.56,372.05 L828.82,371.33 L830.09,370.59 L831.35,369.84 L832.62,369.08 L833.88,368.30 L835.15,367.51 L836.41,366.71 L837.68,365.90 L838.94,365.07 L840.21,364.23 L841.47,363.37 L842.74,362.50 L844.00,361.62 L845.27,360.72 L846.53,359.81 L847.80,358.88 L849.06,357.94 L850.33,356.98 L851.59,356.00 L852.86,355.01 L854.12,354.01 L855.39,352.99 L856.65,351.95 L857.92,350.89 L859.18,349.82 L860.45,348.73 L861.71,347.62 L862.98,346.50 L864.24,345.35 L865.51,344.19 L866.77,343.01 L868.04,341.82 L869.30,340.60 L870.57,339.37 L871.83,338.12 L873.10,336.85 L874.36,335.57 L875.63,334.26 L876.89,332.94 L878.16,331.60 L879.42,330.24 L880.68,328.86 L881.95,327.47 L883.21,326.06 L884.48,324.62 L885.74,323.18 L887.01,321.71 L888.27,320.23 L889.54,318.72 L890.80,317.20 L892.07,315.67 L893.33,314.11 L894.60,312.54 L895.86,310.95 L897.13,309.34 L898.39,307.71 L899.66,306.06 L900.92,304.40 L902.19,302.72 L903.45,301.02 L904.72,299.30 L905.98,297.57 L907.25,295.82 L908.51,294.05 L909.78,292.26 L911.04,290.45 L912.31,288.63 L913.57,286.79 L914.84,284.93 L916.10,283.05 L917.37,281.15 L918.63,279.23 L919.90,277.28 L921.16,275.31 L922.43,273.31 L923.69,271.29 L924.96,269.24 L926.22,267.16 L927.49,265.05 L928.75,262.90 L930.02,260.73 L931.28,258.51 L932.55,256.27 L933.81,253.98 L935.07,251.66 L936.34,249.30 L937.60,246.90 L938.87,244.45 L940.13,241.97 L941.40,239.45 L942.66,236.89 L943.93,234.29 L945.19,231.66 L946.46,228.99 L947.72,226.29 L948.99,223.55 L950.25,220.79 L951.52,217.99 L952.78,215.17 L954.05,212.31 L955.31,209.43 L956.58,206.53 L957.84,203.60 L959.11,200.64 L960.37,197.67 L961.64,194.67 L962.90,191.65 L964.17,188.61 L965.43,185.56 L966.70,182.48 L967.96,179.39 L969.23,176.29 L970.49,173.17 L971.76,170.04 L973.02,166.90 L974.29,163.75 L975.55,160.58 L976.82,157.41 L978.08,154.24 L979.35,151.09 L980.61,147.96 L981.88,144.87 L983.14,141.84 L984.41,138.88 L985.67,136.01 L986.94,133.24 L988.20,130.58" stroke="#e8161e" stroke-width="2.2" fill="none" stroke-linejoin="round" stroke-linecap="square"/>
</g>
<path d="M606.30,22.45 V458.90 H992.10 V22.45 Z" fill="none" stroke="#222" stroke-width="1.7"/>
<path d="M594.20,458.90 H606.30 M594.20,447.99 H606.30 M594.20,437.08 H606.30 M594.20,426.17 H606.30 M594.20,415.25 H606.30 M594.20,404.34 H606.30 M594.20,393.43 H606.30 M594.20,382.52 H606.30 M594.20,371.61 H606.30 M594.20,360.70 H606.30 M594.20,349.79 H606.30 M594.20,338.88 H606.30 M594.20,327.96 H606.30 M594.20,317.05 H606.30 M594.20,306.14 H606.30 M594.20,295.23 H606.30 M594.20,284.32 H606.30 M594.20,273.41 H606.30 M594.20,262.50 H606.30 M594.20,251.59 H606.30 M594.20,240.67 H606.30 M594.20,229.76 H606.30 M594.20,218.85 H606.30 M594.20,207.94 H606.30 M594.20,197.03 H606.30 M594.20,186.12 H606.30 M594.20,175.21 H606.30 M594.20,164.30 H606.30 M594.20,153.38 H606.30 M594.20,142.47 H606.30 M594.20,131.56 H606.30 M594.20,120.65 H606.30 M594.20,109.74 H606.30 M594.20,98.83 H606.30 M594.20,87.92 H606.30 M594.20,77.01 H606.30 M594.20,66.10 H606.30 M594.20,55.18 H606.30 M594.20,44.27 H606.30 M594.20,33.36 H606.30 M594.20,22.45 H606.30 M610.00,458.90 V471.00 M629.11,458.90 V471.00 M648.21,458.90 V471.00 M667.32,458.90 V471.00 M686.42,458.90 V471.00 M705.52,458.90 V471.00 M724.63,458.90 V471.00 M743.74,458.90 V471.00 M762.84,458.90 V471.00 M781.95,458.90 V471.00 M801.05,458.90 V471.00 M820.15,458.90 V471.00 M839.26,458.90 V471.00 M858.37,458.90 V471.00 M877.47,458.90 V471.00 M896.58,458.90 V471.00 M915.68,458.90 V471.00 M934.79,458.90 V471.00 M953.89,458.90 V471.00 M973.00,458.90 V471.00 M992.10,458.90 V471.00" stroke="#161616" stroke-width="1.6" fill="none"/>
<text transform="translate(586.72,467.61) scale(0.9692,1)" font-size="26.87" font-style="normal" font-weight="normal" text-anchor="end" fill="#262626">0.00</text>
<text transform="translate(586.72,413.06) scale(0.9692,1)" font-size="26.87" font-style="normal" font-weight="normal" text-anchor="end" fill="#262626">0.05</text>
<text transform="translate(586.72,358.50) scale(0.9692,1)" font-size="26.87" font-style="normal" font-weight="normal" text-anchor="end" fill="#262626">0.10</text>
<text transform="translate(586.72,303.94) scale(0.9692,1)" font-size="26.87" font-style="normal" font-weight="normal" text-anchor="end" fill="#262626">0.15</text>
<text transform="translate(586.72,249.39) scale(0.9692,1)" font-size="26.87" font-style="normal" font-weight="normal" text-anchor="end" fill="#262626">0.20</text>
<text transform="translate(586.72,194.83) scale(0.9692,1)" font-size="26.87" font-style="normal" font-weight="normal" text-anchor="end" fill="#262626">0.25</text>
<text transform="translate(586.72,140.28) scale(0.9692,1)" font-size="26.87" font-style="normal" font-weight="normal" text-anchor="end" fill="#262626">0.30</text>
<text transform="translate(586.72,85.72) scale(0.9692,1)" font-size="26.87" font-style="normal" font-weight="normal" text-anchor="end" fill="#262626">0.35</text>
<text transform="translate(586.72,31.16) scale(0.9692,1)" font-size="26.87" font-style="normal" font-weight="normal" text-anchor="end" fill="#262626">0.40</text>
<text transform="translate(610.10,496.12) scale(0.9853,1)" font-size="26.72" font-style="normal" font-weight="normal" text-anchor="middle" fill="#262626">0.0</text>
<text transform="translate(686.52,496.12) scale(0.9853,1)" font-size="26.72" font-style="normal" font-weight="normal" text-anchor="middle" fill="#262626">0.2</text>
<text transform="translate(762.94,496.12) scale(0.9853,1)" font-size="26.72" font-style="normal" font-weight="normal" text-anchor="middle" fill="#262626">0.4</text>
<text transform="translate(839.36,496.12) scale(0.9853,1)" font-size="26.72" font-style="normal" font-weight="normal" text-anchor="middle" fill="#262626">0.6</text>
<text transform="translate(915.78,496.12) scale(0.9853,1)" font-size="26.72" font-style="normal" font-weight="normal" text-anchor="middle" fill="#262626">0.8</text>
<text transform="translate(992.20,496.12) scale(0.9853,1)" font-size="26.72" font-style="normal" font-weight="normal" text-anchor="middle" fill="#262626">1.0</text>
<text transform="translate(1001.27,461.96) scale(1.0383,1)" font-size="25.21" font-style="italic" font-weight="normal" text-anchor="start" fill="#262626">ρ</text>
<g clip-path="url(#clipc)">
<path d="M75.00,896.04 H459.00" stroke="#222222" stroke-width="1.3" fill="none" stroke-dasharray="3.5 2.7"/>
<path d="M74.69,901.88 L85.62,901.56 L101.25,901.25 L116.88,901.56 L129.38,899.69 L137.19,902.34 L145.00,900.78 L155.94,901.56 L163.75,902.34 L171.56,900.31 L179.38,899.69 L188.75,900.00 L195.00,898.75 L202.81,901.56 L210.62,898.75 L220.00,897.66 L224.69,897.97 L230.94,898.44 L240.31,896.41 L252.81,898.75 L270.00,895.31 L279.38,896.41 L290.31,895.31 L301.25,894.84 L316.88,894.06 L326.25,892.81 L340.31,890.62 L349.69,893.28 L357.50,890.62 L366.88,889.06 L366.84,889.22 L372.70,889.90 L378.55,890.20 L385.39,888.44 L390.27,887.66 L396.13,888.44 L403.95,886.00 L409.80,886.68 L415.66,885.70 L419.57,885.51 L426.41,885.51 L430.31,885.02 L437.15,882.58 L443.98,882.77 L447.89,883.07 L452.77,884.04" stroke="#2a2a92" stroke-width="2.2" fill="none" stroke-dasharray="6.3 3.97" stroke-linejoin="round"/>
<path d="M74.69,898.12 L85.62,898.44 L101.25,897.66 L116.88,896.88 L129.38,896.09 L137.19,899.69 L143.44,896.88 L152.81,897.66 L163.75,898.12 L171.56,896.09 L179.38,896.09 L188.75,896.56 L195.00,895.62 L202.81,896.88 L210.62,895.31 L220.00,893.75 L224.69,893.28 L232.50,893.28 L243.44,892.19 L252.81,894.84 L266.88,891.72 L276.25,893.28 L290.31,890.94 L298.12,890.16 L316.88,889.84 L326.25,887.81 L335.62,887.81 L341.88,886.25 L349.69,888.28 L357.50,886.25 L366.88,884.38 L365.86,884.53 L371.72,885.02 L377.58,885.70 L383.44,884.34 L389.30,882.77 L393.20,882.58 L399.06,883.36 L404.92,881.80 L410.78,882.09 L417.62,880.62 L423.48,879.84 L428.36,880.62 L434.22,878.18 L440.08,877.21 L445.94,878.18 L450.82,876.91 L452.77,878.48" stroke="#0b74c1" stroke-width="1.9" fill="none" stroke-dasharray="4.1 2.0" stroke-linejoin="round"/>
<path d="M74.69,896.88 L81.72,896.88 L87.97,896.56 L94.22,896.41 L100.47,896.25 L106.72,895.62 L112.97,895.62 L119.22,894.53 L125.47,892.97 L131.25,891.41 L137.19,893.44 L142.19,890.31 L148.12,889.84 L154.38,888.28 L160.31,887.19 L166.56,886.25 L171.88,882.81 L177.03,882.03 L182.50,880.47 L188.75,878.12 L194.53,875.00 L200.16,875.78 L204.38,871.56 L209.84,870.00 L215.62,867.50 L221.56,862.81 L227.03,860.94 L231.72,858.91 L236.88,855.78 L242.19,852.19 L247.81,850.31 L253.59,848.44 L257.97,843.75 L262.97,840.16 L267.66,836.56 L273.44,834.38 L278.12,830.31 L283.28,826.25 L287.97,821.88 L292.19,817.19 L298.12,814.38 L302.81,810.62 L307.19,806.25 L312.50,802.34 L316.56,797.50 L320.78,792.81 L324.69,787.81 L329.84,783.44 L337.21,774.41 L341.71,769.37 L346.22,764.86 L353.42,756.40 L357.93,751.71 L362.43,747.39 L367.84,738.74 L372.34,731.53 L377.21,727.03 L381.35,722.16 L384.95,716.22 L387.66,710.81 L391.26,705.41 L395.23,700.00 L398.47,695.14 L401.71,689.19 L404.41,683.24 L408.38,678.92 L411.44,672.97 L414.68,667.57 L417.75,661.62 L420.63,656.22 L423.69,650.45 L427.30,645.05 L430.18,639.28 L433.06,633.69 L432.90,633.70 L435.50,627.80 L437.50,621.70 L440.40,616.10 L443.80,610.60 L446.90,605.00 L449.00,599.30 L452.60,593.60" stroke="#b3200f" stroke-width="2.7" fill="none" stroke-dasharray="0 6.3467" stroke-linecap="round"/>
<path d="M74.69,914.84 L82.50,915.94 L93.44,914.38 L105.94,913.28 L116.88,912.81 L124.69,910.94 L132.50,909.38 L137.19,911.25 L144.22,906.56 L148.12,908.59 L157.50,906.25 L163.75,905.47 L171.56,901.56 L179.38,900.00 L187.19,897.66 L198.12,892.97 L200.47,895.31 L205.94,889.06 L213.75,887.19 L220.00,883.12 L224.69,880.78 L227.81,881.56 L235.62,875.62 L239.53,875.00 L243.44,871.41 L253.59,868.75 L259.06,862.81 L262.19,861.25 L270.00,854.69 L273.91,855.31 L282.50,847.97 L293.44,837.81 L299.69,835.47 L307.50,828.44 L313.75,823.75 L319.22,818.28 L323.91,811.25 L335.62,801.88 L343.44,790.94 L346.56,787.81 L350.47,787.50 L354.30,778.40 L361.50,773.00 L366.00,764.00 L373.20,755.30 L378.60,750.50 L385.00,738.70 L395.80,725.20 L402.10,713.50 L409.30,703.60 L420.10,682.90 L429.10,667.60 L433.60,659.50 L439.00,645.00 L446.40,634.30 L449.00,627.00 L449.30,625.50 L453.20,621.30" stroke="#e8161e" stroke-width="2.2" fill="none" stroke-linejoin="round" stroke-linecap="square"/>
</g>
<path d="M71.25,590.25 V1027.10 H457.00 V590.25 Z" fill="none" stroke="#222" stroke-width="1.7"/>
<path d="M59.15,1027.10 H71.25 M59.15,1005.26 H71.25 M59.15,983.41 H71.25 M59.15,961.57 H71.25 M59.15,939.73 H71.25 M59.15,917.89 H71.25 M59.15,896.04 H71.25 M59.15,874.20 H71.25 M59.15,852.36 H71.25 M59.15,830.52 H71.25 M59.15,808.67 H71.25 M59.15,786.83 H71.25 M59.15,764.99 H71.25 M59.15,743.15 H71.25 M59.15,721.30 H71.25 M59.15,699.46 H71.25 M59.15,677.62 H71.25 M59.15,655.78 H71.25 M59.15,633.93 H71.25 M59.15,612.09 H71.25 M59.15,590.25 H71.25 M75.00,1027.10 V1039.20 M94.10,1027.10 V1039.20 M113.20,1027.10 V1039.20 M132.30,1027.10 V1039.20 M151.40,1027.10 V1039.20 M170.50,1027.10 V1039.20 M189.60,1027.10 V1039.20 M208.70,1027.10 V1039.20 M227.80,1027.10 V1039.20 M246.90,1027.10 V1039.20 M266.00,1027.10 V1039.20 M285.10,1027.10 V1039.20 M304.20,1027.10 V1039.20 M323.30,1027.10 V1039.20 M342.40,1027.10 V1039.20 M361.50,1027.10 V1039.20 M380.60,1027.10 V1039.20 M399.70,1027.10 V1039.20 M418.80,1027.10 V1039.20 M437.90,1027.10 V1039.20 M457.00,1027.10 V1039.20" stroke="#161616" stroke-width="1.6" fill="none"/>
<text transform="translate(51.67,1035.81) scale(0.9692,1)" font-size="26.87" font-style="normal" font-weight="normal" text-anchor="end" fill="#262626">0.02</text>
<text transform="translate(51.67,992.13) scale(0.9692,1)" font-size="26.87" font-style="normal" font-weight="normal" text-anchor="end" fill="#262626">0.03</text>
<text transform="translate(51.67,948.44) scale(0.9692,1)" font-size="26.87" font-style="normal" font-weight="normal" text-anchor="end" fill="#262626">0.04</text>
<text transform="translate(51.67,904.76) scale(0.9692,1)" font-size="26.87" font-style="normal" font-weight="normal" text-anchor="end" fill="#262626">0.05</text>
<text transform="translate(51.67,861.07) scale(0.9692,1)" font-size="26.87" font-style="normal" font-weight="normal" text-anchor="end" fill="#262626">0.06</text>
<text transform="translate(51.67,817.39) scale(0.9692,1)" font-size="26.87" font-style="normal" font-weight="normal" text-anchor="end" fill="#262626">0.07</text>
<text transform="translate(51.67,773.70) scale(0.9692,1)" font-size="26.87" font-style="normal" font-weight="normal" text-anchor="end" fill="#262626">0.08</text>
<text transform="translate(51.67,730.02) scale(0.9692,1)" font-size="26.87" font-style="normal" font-weight="normal" text-anchor="end" fill="#262626">0.09</text>
<text transform="translate(51.67,686.33) scale(0.9692,1)" font-size="26.87" font-style="normal" font-weight="normal" text-anchor="end" fill="#262626">0.10</text>
<text transform="translate(51.67,642.65) scale(0.9692,1)" font-size="26.87" font-style="normal" font-weight="normal" text-anchor="end" fill="#262626">0.11</text>
<text transform="translate(51.67,598.96) scale(0.9692,1)" font-size="26.87" font-style="normal" font-weight="normal" text-anchor="end" fill="#262626">0.12</text>
<text transform="translate(75.10,1064.32) scale(0.9853,1)" font-size="26.72" font-style="normal" font-weight="normal" text-anchor="middle" fill="#262626">0.0</text>
<text transform="translate(151.50,1064.32) scale(0.9853,1)" font-size="26.72" font-style="normal" font-weight="normal" text-anchor="middle" fill="#262626">0.2</text>
<text transform="translate(227.90,1064.32) scale(0.9853,1)" font-size="26.72" font-style="normal" font-weight="normal" text-anchor="middle" fill="#262626">0.4</text>
<text transform="translate(304.30,1064.32) scale(0.9853,1)" font-size="26.72" font-style="normal" font-weight="normal" text-anchor="middle" fill="#262626">0.6</text>
<text transform="translate(380.70,1064.32) scale(0.9853,1)" font-size="26.72" font-style="normal" font-weight="normal" text-anchor="middle" fill="#262626">0.8</text>
<text transform="translate(457.10,1064.32) scale(0.9853,1)" font-size="26.72" font-style="normal" font-weight="normal" text-anchor="middle" fill="#262626">1.0</text>
<text transform="translate(466.22,1030.16) scale(1.0383,1)" font-size="25.21" font-style="italic" font-weight="normal" text-anchor="start" fill="#262626">ρ</text>
<g clip-path="url(#clipd)">
<path d="M610.00,852.38 H994.10" stroke="#222222" stroke-width="1.3" fill="none" stroke-dasharray="3.5 2.7"/>
<path d="M609.91,830.62 L614.59,833.44 L620.06,831.88 L624.75,832.97 L629.44,831.41 L634.91,830.94 L640.38,836.88 L645.06,833.75 L652.09,837.66 L657.56,830.94 L662.25,834.53 L666.94,833.75 L672.41,831.41 L676.31,833.44 L679.44,831.41 L683.34,836.88 L687.25,834.06 L692.72,835.78 L698.19,830.62 L703.66,832.19 L707.56,833.44 L715.38,831.41 L721.62,834.53 L727.88,832.19 L734.12,834.22 L741.94,832.50 L751.31,834.53 L762.25,830.94 L769.38,830.00 L774.06,830.00 L778.75,833.12 L783.44,831.88 L789.69,832.34 L795.94,831.56 L802.19,832.34 L805.31,830.78 L809.22,826.56 L812.34,831.56 L817.03,831.25 L822.50,830.78 L827.19,829.69 L831.88,831.25 L836.56,831.25 L839.69,829.69 L843.59,826.56 L847.50,829.22 L852.19,826.88 L856.88,829.69 L861.56,832.34 L866.25,829.69 L872.50,830.31 L878.75,829.69 L885.00,826.09 L889.69,826.88 L894.38,828.75 L897.50,830.31 L905.04,823.63 L908.65,826.80 L912.97,827.09 L918.01,828.96 L921.61,827.95 L927.38,828.24 L933.14,827.09 L938.90,825.36 L943.23,826.51 L947.55,828.96 L951.87,827.09 L957.64,826.51 L961.96,826.80 L969.16,823.63 L973.49,825.36 L978.53,822.77 L982.85,824.21 L987.90,826.51" stroke="#2a2a92" stroke-width="2.2" fill="none" stroke-dasharray="6.3 3.97" stroke-linejoin="round"/>
<path d="M609.91,823.59 L615.38,825.62 L621.62,824.69 L626.31,825.94 L631.00,823.59 L635.69,822.81 L641.16,830.31 L645.06,827.19 L648.97,826.72 L652.88,828.28 L656.78,822.81 L660.69,826.72 L665.38,826.72 L671.62,822.81 L677.09,824.69 L680.22,824.69 L684.12,827.19 L688.81,827.19 L692.72,829.06 L697.41,823.12 L702.09,822.81 L706.00,825.16 L710.69,825.62 L716.16,824.38 L721.62,826.72 L727.88,825.62 L734.12,826.72 L741.94,825.16 L749.75,826.72 L756.00,825.16 L762.25,823.59 L767.03,826.56 L771.72,821.88 L775.62,822.97 L779.53,825.31 L783.44,824.22 L788.12,824.53 L794.38,824.06 L800.62,824.53 L805.31,823.44 L809.22,818.28 L813.12,822.19 L817.81,822.97 L822.50,823.44 L827.19,821.41 L831.88,822.97 L835.78,824.06 L839.69,820.94 L842.81,819.38 L846.72,822.19 L850.62,820.62 L855.31,821.41 L860.00,823.44 L863.91,824.06 L869.38,821.88 L875.62,822.97 L880.31,820.94 L885.00,818.28 L889.69,819.06 L894.38,820.94 L898.28,822.50 L904.32,815.99 L907.20,818.44 L911.53,818.88 L916.57,821.76 L921.61,820.32 L926.66,820.75 L931.70,819.60 L936.02,819.31 L939.63,817.87 L943.23,818.88 L946.83,819.88 L951.87,819.02 L957.64,818.16 L963.40,818.88 L969.16,816.43 L973.49,817.87 L977.81,815.27 L982.85,815.99 L987.90,818.44" stroke="#0b74c1" stroke-width="1.9" fill="none" stroke-dasharray="4.1 2.0" stroke-linejoin="round"/>
<path d="M609.91,830.94 L615.38,832.50 L621.62,831.88 L627.88,831.41 L633.81,829.84 L639.59,832.97 L645.06,833.75 L651.00,835.31 L654.44,831.41 L657.56,830.31 L663.03,831.41 L668.50,829.06 L673.19,828.28 L678.66,826.25 L682.56,831.41 L687.25,828.28 L692.72,829.84 L696.62,825.16 L701.62,822.81 L707.25,824.06 L713.03,823.59 L718.50,822.03 L724.28,821.25 L730.22,820.47 L736.47,818.91 L742.25,817.34 L748.19,817.66 L753.66,814.22 L759.91,811.88 L765.38,811.09 L765.47,812.03 L770.16,808.12 L774.84,805.78 L781.09,806.88 L786.56,804.22 L792.03,802.34 L797.50,799.06 L803.75,797.97 L806.88,793.28 L811.56,791.72 L817.03,792.81 L823.28,790.94 L828.30,787.10 L834.50,786.20 L839.30,782.40 L843.60,778.60 L848.30,778.60 L851.50,774.10 L857.90,775.10 L863.90,772.70 L869.00,769.30 L874.90,767.10 L879.30,762.40 L884.00,757.80 L889.50,755.10 L895.90,754.90 L898.90,749.30 L903.00,744.60 L908.60,744.80 L913.90,742.70 L919.10,739.80 L924.53,736.68 L929.81,733.40 L934.14,728.48 L938.60,724.03 L943.87,721.45 L949.14,718.87 L954.07,714.65 L958.87,710.55 L964.14,707.39 L968.48,702.93 L973.40,699.18 L978.09,694.73 L983.48,691.21" stroke="#b3200f" stroke-width="2.7" fill="none" stroke-dasharray="0 6.3442" stroke-linecap="round"/>
<path d="M609.91,867.66 L613.81,869.69 L617.72,868.12 L621.62,868.59 L625.53,870.94 L629.44,867.34 L633.34,866.88 L637.25,865.78 L640.69,874.84 L644.28,870.00 L648.19,870.47 L652.09,871.56 L656.00,866.09 L659.91,868.12 L663.81,869.69 L667.72,867.34 L671.62,864.69 L674.75,866.25 L678.66,863.12 L682.56,868.59 L686.47,865.00 L690.38,867.66 L694.28,865.78 L698.19,861.09 L701.31,860.00 L706.00,862.66 L709.12,859.84 L713.03,861.09 L716.94,858.28 L720.84,860.78 L724.75,858.75 L728.66,857.97 L732.56,857.97 L736.47,856.88 L740.38,854.53 L744.28,854.06 L748.19,854.06 L752.09,852.50 L756.00,851.41 L759.91,848.59 L763.03,847.81 L767.03,850.00 L770.94,844.38 L774.84,843.28 L778.75,846.88 L782.66,843.28 L787.34,842.50 L791.25,840.94 L795.16,839.06 L799.84,838.28 L805.31,836.25 L809.22,830.00 L813.12,833.44 L817.81,831.56 L822.50,830.00 L827.19,826.56 L831.88,825.62 L835.78,824.53 L839.69,820.62 L843.59,817.50 L846.72,819.38 L850.62,814.06 L855.31,814.06 L862.34,814.06 L866.25,810.94 L870.16,808.59 L874.06,807.81 L878.75,804.22 L883.44,799.53 L886.56,796.41 L892.03,795.16 L896.72,796.09 L900.10,788.10 L904.00,784.90 L907.90,786.60 L912.30,782.90 L915.70,785.20 L919.60,780.30 L923.05,778.96 L926.66,777.09 L930.98,773.78 L935.30,769.88 L938.90,765.13 L942.51,763.69 L946.11,764.12 L949.71,760.52 L954.03,757.35 L958.36,753.60 L961.96,751.87 L965.56,748.27 L969.16,743.52 L973.49,742.07 L977.81,738.18 L982.13,734.87 L985.73,733.43 L987.90,732.71" stroke="#e8161e" stroke-width="2.2" fill="none" stroke-linejoin="round" stroke-linecap="square"/>
</g>
<path d="M606.30,590.30 V1027.10 H992.10 V590.30 Z" fill="none" stroke="#222" stroke-width="1.7"/>
<path d="M594.20,1027.10 H606.30 M594.20,1009.63 H606.30 M594.20,992.16 H606.30 M594.20,974.68 H606.30 M594.20,957.21 H606.30 M594.20,939.74 H606.30 M594.20,922.27 H606.30 M594.20,904.80 H606.30 M594.20,887.32 H606.30 M594.20,869.85 H606.30 M594.20,852.38 H606.30 M594.20,834.91 H606.30 M594.20,817.44 H606.30 M594.20,799.96 H606.30 M594.20,782.49 H606.30 M594.20,765.02 H606.30 M594.20,747.55 H606.30 M594.20,730.08 H606.30 M594.20,712.60 H606.30 M594.20,695.13 H606.30 M594.20,677.66 H606.30 M594.20,660.19 H606.30 M594.20,642.72 H606.30 M594.20,625.24 H606.30 M594.20,607.77 H606.30 M594.20,590.30 H606.30 M610.00,1027.10 V1039.20 M629.11,1027.10 V1039.20 M648.21,1027.10 V1039.20 M667.32,1027.10 V1039.20 M686.42,1027.10 V1039.20 M705.52,1027.10 V1039.20 M724.63,1027.10 V1039.20 M743.74,1027.10 V1039.20 M762.84,1027.10 V1039.20 M781.95,1027.10 V1039.20 M801.05,1027.10 V1039.20 M820.15,1027.10 V1039.20 M839.26,1027.10 V1039.20 M858.37,1027.10 V1039.20 M877.47,1027.10 V1039.20 M896.58,1027.10 V1039.20 M915.68,1027.10 V1039.20 M934.79,1027.10 V1039.20 M953.89,1027.10 V1039.20 M973.00,1027.10 V1039.20 M992.10,1027.10 V1039.20" stroke="#161616" stroke-width="1.6" fill="none"/>
<text transform="translate(586.72,1035.81) scale(0.9692,1)" font-size="26.87" font-style="normal" font-weight="normal" text-anchor="end" fill="#262626">0.03</text>
<text transform="translate(586.72,948.45) scale(0.9692,1)" font-size="26.87" font-style="normal" font-weight="normal" text-anchor="end" fill="#262626">0.04</text>
<text transform="translate(586.72,861.09) scale(0.9692,1)" font-size="26.87" font-style="normal" font-weight="normal" text-anchor="end" fill="#262626">0.05</text>
<text transform="translate(586.72,773.73) scale(0.9692,1)" font-size="26.87" font-style="normal" font-weight="normal" text-anchor="end" fill="#262626">0.06</text>
<text transform="translate(586.72,686.37) scale(0.9692,1)" font-size="26.87" font-style="normal" font-weight="normal" text-anchor="end" fill="#262626">0.07</text>
<text transform="translate(586.72,599.01) scale(0.9692,1)" font-size="26.87" font-style="normal" font-weight="normal" text-anchor="end" fill="#262626">0.08</text>
<text transform="translate(610.10,1064.32) scale(0.9853,1)" font-size="26.72" font-style="normal" font-weight="normal" text-anchor="middle" fill="#262626">0.0</text>
<text transform="translate(686.52,1064.32) scale(0.9853,1)" font-size="26.72" font-style="normal" font-weight="normal" text-anchor="middle" fill="#262626">0.2</text>
<text transform="translate(762.94,1064.32) scale(0.9853,1)" font-size="26.72" font-style="normal" font-weight="normal" text-anchor="middle" fill="#262626">0.4</text>
<text transform="translate(839.36,1064.32) scale(0.9853,1)" font-size="26.72" font-style="normal" font-weight="normal" text-anchor="middle" fill="#262626">0.6</text>
<text transform="translate(915.78,1064.32) scale(0.9853,1)" font-size="26.72" font-style="normal" font-weight="normal" text-anchor="middle" fill="#262626">0.8</text>
<text transform="translate(992.20,1064.32) scale(0.9853,1)" font-size="26.72" font-style="normal" font-weight="normal" text-anchor="middle" fill="#262626">1.0</text>
<text transform="translate(1001.27,1030.16) scale(1.0383,1)" font-size="25.21" font-style="italic" font-weight="normal" text-anchor="start" fill="#262626">ρ</text>
<path d="M90.40,49.10 H170.80" stroke="#e8161e" stroke-width="2.2" fill="none" stroke-linejoin="round" stroke-linecap="square"/>
<path d="M90.20,82.05 H167.00" stroke="#b3200f" stroke-width="2.7" fill="none" stroke-dasharray="0 6.375" stroke-linecap="round"/>
<path d="M90.00,114.40 H171.70" stroke="#2a2a92" stroke-width="2.2" fill="none" stroke-dasharray="6.3 3.97" stroke-linejoin="round"/>
<path d="M89.60,146.95 H172.00" stroke="#0b74c1" stroke-width="1.9" fill="none" stroke-dasharray="4.1 2.0" stroke-linejoin="round"/>
<text transform="translate(177.07,59.18) scale(1.1524,1)" font-size="28.43" font-style="italic" font-weight="normal" text-anchor="start" fill="#262626">S</text>
<text transform="translate(177.07,92.28) scale(1.1524,1)" font-size="28.43" font-style="italic" font-weight="normal" text-anchor="start" fill="#262626">S</text>
<path d="M199.04,74.15 L195.96,81.04 A0.55,0.55 0 0 1 194.93,80.66 L197.16,73.45 A1.00,1.00 0 0 1 199.04,74.15 Z" fill="#262626"/>
<text transform="translate(176.18,124.85) scale(0.9934,1)" font-size="27.46" font-style="normal" font-weight="normal" text-anchor="start" fill="#262626">LR</text>
<path d="M216.84,106.55 L213.76,113.44 A0.55,0.55 0 0 1 212.73,113.06 L214.96,105.85 A1.00,1.00 0 0 1 216.84,106.55 Z" fill="#262626"/>
<text transform="translate(176.15,157.10) scale(1.0278,1)" font-size="27.54" font-style="normal" font-weight="normal" text-anchor="start" fill="#262626">LRF</text>
<text transform="translate(90.05,189.50) scale(1.0492,1)" font-size="26.92" font-style="normal" font-weight="normal" text-anchor="start" fill="#262626">LRF</text>
<text transform="translate(150.42,193.73) scale(1.0344,1)" font-size="32.50" font-style="normal" font-weight="normal" text-anchor="start" fill="#262626">&gt;</text>
<text transform="translate(178.88,189.50) scale(1.0103,1)" font-size="26.92" font-style="normal" font-weight="normal" text-anchor="start" fill="#262626">LR</text>
<text transform="translate(222.52,193.73) scale(1.0344,1)" font-size="32.50" font-style="normal" font-weight="normal" text-anchor="start" fill="#262626">&gt;</text>
<text transform="translate(250.68,189.50) scale(1.0103,1)" font-size="26.92" font-style="normal" font-weight="normal" text-anchor="start" fill="#262626">LR</text>
<path d="M290.94,171.80 L287.86,178.69 A0.55,0.55 0 0 1 286.83,178.31 L289.06,171.10 A1.00,1.00 0 0 1 290.94,171.80 Z" fill="#262626"/>
<text transform="translate(251.12,531.11) scale(0.8774,1)" font-size="28.06" font-style="normal" font-weight="normal" text-anchor="start" fill="#262626">(</text>
<text transform="translate(272.76,531.11) scale(0.8774,1)" font-size="28.06" font-style="normal" font-weight="normal" text-anchor="start" fill="#262626">)</text>
<text transform="translate(260.03,531.46) scale(1.0484,1)" font-size="24.38" font-style="normal" font-weight="bold" text-anchor="start" fill="#262626">a</text>
<path d="M625.45,49.10 H705.85" stroke="#e8161e" stroke-width="2.2" fill="none" stroke-linejoin="round" stroke-linecap="square"/>
<path d="M625.25,82.05 H702.05" stroke="#b3200f" stroke-width="2.7" fill="none" stroke-dasharray="0 6.375" stroke-linecap="round"/>
<path d="M625.05,114.40 H706.75" stroke="#2a2a92" stroke-width="2.2" fill="none" stroke-dasharray="6.3 3.97" stroke-linejoin="round"/>
<path d="M624.65,146.95 H707.05" stroke="#0b74c1" stroke-width="1.9" fill="none" stroke-dasharray="4.1 2.0" stroke-linejoin="round"/>
<text transform="translate(712.12,59.18) scale(1.1524,1)" font-size="28.43" font-style="italic" font-weight="normal" text-anchor="start" fill="#262626">S</text>
<text transform="translate(712.12,92.28) scale(1.1524,1)" font-size="28.43" font-style="italic" font-weight="normal" text-anchor="start" fill="#262626">S</text>
<path d="M734.09,74.15 L731.01,81.04 A0.55,0.55 0 0 1 729.98,80.66 L732.21,73.45 A1.00,1.00 0 0 1 734.09,74.15 Z" fill="#262626"/>
<text transform="translate(711.23,124.85) scale(0.9934,1)" font-size="27.46" font-style="normal" font-weight="normal" text-anchor="start" fill="#262626">LR</text>
<path d="M751.89,106.55 L748.81,113.44 A0.55,0.55 0 0 1 747.78,113.06 L750.01,105.85 A1.00,1.00 0 0 1 751.89,106.55 Z" fill="#262626"/>
<text transform="translate(711.20,157.10) scale(1.0278,1)" font-size="27.54" font-style="normal" font-weight="normal" text-anchor="start" fill="#262626">LRF</text>
<text transform="translate(625.10,189.50) scale(1.0492,1)" font-size="26.92" font-style="normal" font-weight="normal" text-anchor="start" fill="#262626">LRF</text>
<text transform="translate(685.47,193.73) scale(1.0344,1)" font-size="32.50" font-style="normal" font-weight="normal" text-anchor="start" fill="#262626">&gt;</text>
<text transform="translate(713.93,189.50) scale(1.0103,1)" font-size="26.92" font-style="normal" font-weight="normal" text-anchor="start" fill="#262626">LR</text>
<text transform="translate(757.57,193.73) scale(1.0344,1)" font-size="32.50" font-style="normal" font-weight="normal" text-anchor="start" fill="#262626">&gt;</text>
<text transform="translate(785.73,189.50) scale(1.0103,1)" font-size="26.92" font-style="normal" font-weight="normal" text-anchor="start" fill="#262626">LR</text>
<path d="M825.99,171.80 L822.91,178.69 A0.55,0.55 0 0 1 821.88,178.31 L824.11,171.10 A1.00,1.00 0 0 1 825.99,171.80 Z" fill="#262626"/>
<text transform="translate(785.02,531.11) scale(0.8774,1)" font-size="28.06" font-style="normal" font-weight="normal" text-anchor="start" fill="#262626">(</text>
<text transform="translate(808.96,531.11) scale(0.8774,1)" font-size="28.06" font-style="normal" font-weight="normal" text-anchor="start" fill="#262626">)</text>
<text transform="translate(794.68,531.46) scale(1.0484,1)" font-size="24.38" font-style="normal" font-weight="bold" text-anchor="start" fill="#262626">b</text>
<path d="M90.40,624.50 H170.80" stroke="#e8161e" stroke-width="2.2" fill="none" stroke-linejoin="round" stroke-linecap="square"/>
<path d="M90.20,659.70 H167.00" stroke="#b3200f" stroke-width="2.7" fill="none" stroke-dasharray="0 6.375" stroke-linecap="round"/>
<path d="M90.00,694.30 H171.70" stroke="#2a2a92" stroke-width="2.2" fill="none" stroke-dasharray="6.3 3.97" stroke-linejoin="round"/>
<path d="M89.60,729.40 H172.00" stroke="#0b74c1" stroke-width="1.9" fill="none" stroke-dasharray="4.1 2.0" stroke-linejoin="round"/>
<text transform="translate(177.07,634.58) scale(1.1524,1)" font-size="28.43" font-style="italic" font-weight="normal" text-anchor="start" fill="#262626">S</text>
<text transform="translate(177.07,669.93) scale(1.1524,1)" font-size="28.43" font-style="italic" font-weight="normal" text-anchor="start" fill="#262626">S</text>
<path d="M199.04,651.80 L195.96,658.69 A0.55,0.55 0 0 1 194.93,658.31 L197.16,651.10 A1.00,1.00 0 0 1 199.04,651.80 Z" fill="#262626"/>
<text transform="translate(176.18,704.75) scale(0.9934,1)" font-size="27.46" font-style="normal" font-weight="normal" text-anchor="start" fill="#262626">LR</text>
<path d="M216.84,686.45 L213.76,693.34 A0.55,0.55 0 0 1 212.73,692.96 L214.96,685.75 A1.00,1.00 0 0 1 216.84,686.45 Z" fill="#262626"/>
<text transform="translate(176.15,739.55) scale(1.0278,1)" font-size="27.54" font-style="normal" font-weight="normal" text-anchor="start" fill="#262626">LRF</text>
<text transform="translate(90.05,992.70) scale(1.0492,1)" font-size="26.92" font-style="normal" font-weight="normal" text-anchor="start" fill="#262626">LRF</text>
<text transform="translate(150.42,996.93) scale(1.0344,1)" font-size="32.50" font-style="normal" font-weight="normal" text-anchor="start" fill="#262626">&gt;</text>
<text transform="translate(178.88,992.70) scale(1.0103,1)" font-size="26.92" font-style="normal" font-weight="normal" text-anchor="start" fill="#262626">LR</text>
<text transform="translate(222.52,996.93) scale(1.0344,1)" font-size="32.50" font-style="normal" font-weight="normal" text-anchor="start" fill="#262626">&gt;</text>
<text transform="translate(250.68,992.70) scale(1.0103,1)" font-size="26.92" font-style="normal" font-weight="normal" text-anchor="start" fill="#262626">LR</text>
<path d="M290.94,975.00 L287.86,981.89 A0.55,0.55 0 0 1 286.83,981.51 L289.06,974.30 A1.00,1.00 0 0 1 290.94,975.00 Z" fill="#262626"/>
<text transform="translate(251.82,1098.21) scale(0.8774,1)" font-size="28.06" font-style="normal" font-weight="normal" text-anchor="start" fill="#262626">(</text>
<text transform="translate(272.86,1098.21) scale(0.8774,1)" font-size="28.06" font-style="normal" font-weight="normal" text-anchor="start" fill="#262626">)</text>
<text transform="translate(260.55,1098.56) scale(1.0484,1)" font-size="24.38" font-style="normal" font-weight="bold" text-anchor="start" fill="#262626">c</text>
<path d="M625.45,624.50 H705.85" stroke="#e8161e" stroke-width="2.2" fill="none" stroke-linejoin="round" stroke-linecap="square"/>
<path d="M625.25,659.70 H702.05" stroke="#b3200f" stroke-width="2.7" fill="none" stroke-dasharray="0 6.375" stroke-linecap="round"/>
<path d="M625.05,694.30 H706.75" stroke="#2a2a92" stroke-width="2.2" fill="none" stroke-dasharray="6.3 3.97" stroke-linejoin="round"/>
<path d="M624.65,729.40 H707.05" stroke="#0b74c1" stroke-width="1.9" fill="none" stroke-dasharray="4.1 2.0" stroke-linejoin="round"/>
<text transform="translate(712.12,634.58) scale(1.1524,1)" font-size="28.43" font-style="italic" font-weight="normal" text-anchor="start" fill="#262626">S</text>
<text transform="translate(712.12,669.93) scale(1.1524,1)" font-size="28.43" font-style="italic" font-weight="normal" text-anchor="start" fill="#262626">S</text>
<path d="M734.09,651.80 L731.01,658.69 A0.55,0.55 0 0 1 729.98,658.31 L732.21,651.10 A1.00,1.00 0 0 1 734.09,651.80 Z" fill="#262626"/>
<text transform="translate(711.23,704.75) scale(0.9934,1)" font-size="27.46" font-style="normal" font-weight="normal" text-anchor="start" fill="#262626">LR</text>
<path d="M751.89,686.45 L748.81,693.34 A0.55,0.55 0 0 1 747.78,692.96 L750.01,685.75 A1.00,1.00 0 0 1 751.89,686.45 Z" fill="#262626"/>
<text transform="translate(711.20,739.55) scale(1.0278,1)" font-size="27.54" font-style="normal" font-weight="normal" text-anchor="start" fill="#262626">LRF</text>
<text transform="translate(625.10,992.70) scale(1.0492,1)" font-size="26.92" font-style="normal" font-weight="normal" text-anchor="start" fill="#262626">LRF</text>
<text transform="translate(685.47,996.93) scale(1.0344,1)" font-size="32.50" font-style="normal" font-weight="normal" text-anchor="start" fill="#262626">&gt;</text>
<text transform="translate(713.93,992.70) scale(1.0103,1)" font-size="26.92" font-style="normal" font-weight="normal" text-anchor="start" fill="#262626">LR</text>
<text transform="translate(757.57,996.93) scale(1.0344,1)" font-size="32.50" font-style="normal" font-weight="normal" text-anchor="start" fill="#262626">&gt;</text>
<text transform="translate(785.73,992.70) scale(1.0103,1)" font-size="26.92" font-style="normal" font-weight="normal" text-anchor="start" fill="#262626">LR</text>
<path d="M825.99,975.00 L822.91,981.89 A0.55,0.55 0 0 1 821.88,981.51 L824.11,974.30 A1.00,1.00 0 0 1 825.99,975.00 Z" fill="#262626"/>
<text transform="translate(785.02,1098.21) scale(0.8774,1)" font-size="28.06" font-style="normal" font-weight="normal" text-anchor="start" fill="#262626">(</text>
<text transform="translate(809.11,1098.21) scale(0.8774,1)" font-size="28.06" font-style="normal" font-weight="normal" text-anchor="start" fill="#262626">)</text>
<text transform="translate(793.89,1098.56) scale(1.0484,1)" font-size="24.38" font-style="normal" font-weight="bold" text-anchor="start" fill="#262626">d</text>
</svg>
</div></body></html>
